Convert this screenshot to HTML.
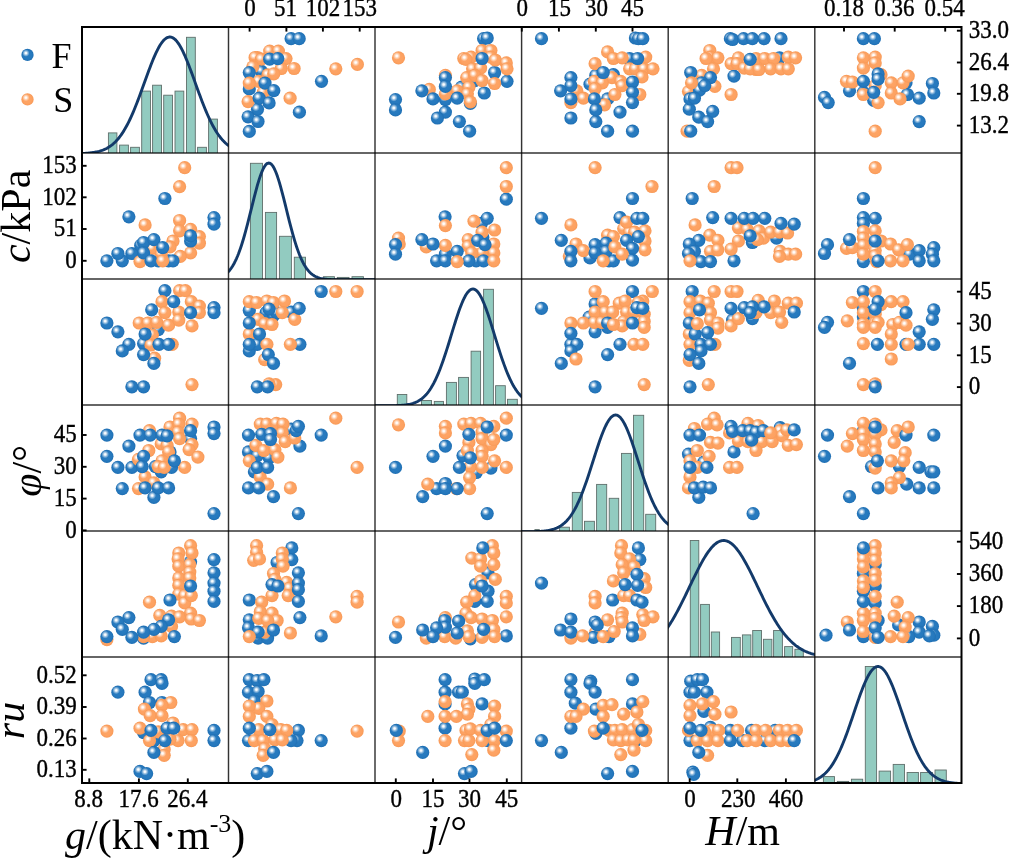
<!DOCTYPE html><html><head><meta charset="utf-8"><style>html,body{margin:0;padding:0;background:#fff;width:1009px;height:859px;overflow:hidden}svg{display:block;filter:grayscale(0%)}text{font-family:'Liberation Serif',serif;fill:#000}</style></head><body>
<svg width="1009" height="859" viewBox="0 0 1009 859">
<defs>
<radialGradient id="gb" cx="0.5" cy="0.5" r="0.5"><stop offset="0" stop-color="#2a7cc0"/><stop offset="0.7" stop-color="#2679be"/><stop offset="1" stop-color="#1f6fb3"/></radialGradient>
<radialGradient id="go" cx="0.5" cy="0.5" r="0.5"><stop offset="0" stop-color="#fea566"/><stop offset="0.7" stop-color="#fda262"/><stop offset="1" stop-color="#f89a58"/></radialGradient>
<radialGradient id="gh" cx="0.5" cy="0.5" r="0.5"><stop offset="0" stop-color="#fff" stop-opacity="1"/><stop offset="0.22" stop-color="#fff" stop-opacity="0.95"/><stop offset="0.55" stop-color="#fff" stop-opacity="0.5"/><stop offset="1" stop-color="#fff" stop-opacity="0"/></radialGradient>
<g id="sb"><circle r="6.6" fill="url(#gb)"/><circle cx="-1.7" cy="-1.9" r="3.9" fill="url(#gh)"/></g>
<g id="so"><circle r="6.6" fill="url(#go)"/><circle cx="-1.7" cy="-1.9" r="3.9" fill="url(#gh)"/></g>
<clipPath id="k00"><rect x="82" y="27" width="146.5" height="126.0"/></clipPath>
<clipPath id="k01"><rect x="228.5" y="27" width="146.5" height="126.0"/></clipPath>
<clipPath id="k02"><rect x="375" y="27" width="146.6" height="126.0"/></clipPath>
<clipPath id="k03"><rect x="521.6" y="27" width="146.6" height="126.0"/></clipPath>
<clipPath id="k04"><rect x="668.2" y="27" width="146.6" height="126.0"/></clipPath>
<clipPath id="k05"><rect x="814.8" y="27" width="146.7" height="126.0"/></clipPath>
<clipPath id="k10"><rect x="82" y="153" width="146.5" height="126.0"/></clipPath>
<clipPath id="k11"><rect x="228.5" y="153" width="146.5" height="126.0"/></clipPath>
<clipPath id="k12"><rect x="375" y="153" width="146.6" height="126.0"/></clipPath>
<clipPath id="k13"><rect x="521.6" y="153" width="146.6" height="126.0"/></clipPath>
<clipPath id="k14"><rect x="668.2" y="153" width="146.6" height="126.0"/></clipPath>
<clipPath id="k15"><rect x="814.8" y="153" width="146.7" height="126.0"/></clipPath>
<clipPath id="k20"><rect x="82" y="279" width="146.5" height="126.0"/></clipPath>
<clipPath id="k21"><rect x="228.5" y="279" width="146.5" height="126.0"/></clipPath>
<clipPath id="k22"><rect x="375" y="279" width="146.6" height="126.0"/></clipPath>
<clipPath id="k23"><rect x="521.6" y="279" width="146.6" height="126.0"/></clipPath>
<clipPath id="k24"><rect x="668.2" y="279" width="146.6" height="126.0"/></clipPath>
<clipPath id="k25"><rect x="814.8" y="279" width="146.7" height="126.0"/></clipPath>
<clipPath id="k30"><rect x="82" y="405" width="146.5" height="126.0"/></clipPath>
<clipPath id="k31"><rect x="228.5" y="405" width="146.5" height="126.0"/></clipPath>
<clipPath id="k32"><rect x="375" y="405" width="146.6" height="126.0"/></clipPath>
<clipPath id="k33"><rect x="521.6" y="405" width="146.6" height="126.0"/></clipPath>
<clipPath id="k34"><rect x="668.2" y="405" width="146.6" height="126.0"/></clipPath>
<clipPath id="k35"><rect x="814.8" y="405" width="146.7" height="126.0"/></clipPath>
<clipPath id="k40"><rect x="82" y="531" width="146.5" height="126.0"/></clipPath>
<clipPath id="k41"><rect x="228.5" y="531" width="146.5" height="126.0"/></clipPath>
<clipPath id="k42"><rect x="375" y="531" width="146.6" height="126.0"/></clipPath>
<clipPath id="k43"><rect x="521.6" y="531" width="146.6" height="126.0"/></clipPath>
<clipPath id="k44"><rect x="668.2" y="531" width="146.6" height="126.0"/></clipPath>
<clipPath id="k45"><rect x="814.8" y="531" width="146.7" height="126.0"/></clipPath>
<clipPath id="k50"><rect x="82" y="657" width="146.5" height="126.0"/></clipPath>
<clipPath id="k51"><rect x="228.5" y="657" width="146.5" height="126.0"/></clipPath>
<clipPath id="k52"><rect x="375" y="657" width="146.6" height="126.0"/></clipPath>
<clipPath id="k53"><rect x="521.6" y="657" width="146.6" height="126.0"/></clipPath>
<clipPath id="k54"><rect x="668.2" y="657" width="146.6" height="126.0"/></clipPath>
<clipPath id="k55"><rect x="814.8" y="657" width="146.7" height="126.0"/></clipPath>
</defs>
<rect width="1009" height="859" fill="#fff"/>
<g clip-path="url(#k00)">
<rect x="108.4" y="132.9" width="8.5" height="22.1" fill="#92cbc0" stroke="#5f6f6b" stroke-width="0.9"/>
<rect x="119.6" y="145.1" width="8.8" height="9.9" fill="#92cbc0" stroke="#5f6f6b" stroke-width="0.9"/>
<rect x="130.6" y="147.3" width="8.8" height="7.7" fill="#92cbc0" stroke="#5f6f6b" stroke-width="0.9"/>
<rect x="141.7" y="91.1" width="8.8" height="63.9" fill="#92cbc0" stroke="#5f6f6b" stroke-width="0.9"/>
<rect x="152.6" y="85.2" width="8.9" height="69.8" fill="#92cbc0" stroke="#5f6f6b" stroke-width="0.9"/>
<rect x="163.7" y="95.2" width="8.8" height="59.8" fill="#92cbc0" stroke="#5f6f6b" stroke-width="0.9"/>
<rect x="175.0" y="91.1" width="8.8" height="63.9" fill="#92cbc0" stroke="#5f6f6b" stroke-width="0.9"/>
<rect x="186.5" y="37.3" width="8.8" height="117.7" fill="#92cbc0" stroke="#5f6f6b" stroke-width="0.9"/>
<rect x="197.6" y="147.3" width="8.8" height="7.7" fill="#92cbc0" stroke="#5f6f6b" stroke-width="0.9"/>
<rect x="208.6" y="119.1" width="8.8" height="35.9" fill="#92cbc0" stroke="#5f6f6b" stroke-width="0.9"/>
<polyline points="80.0,153.56 81.0,153.53 82.0,153.49 83.0,153.44 84.0,153.39 85.0,153.34 86.0,153.27 87.0,153.20 88.0,153.12 89.0,153.03 90.0,152.93 91.0,152.81 92.0,152.69 93.0,152.55 94.0,152.39 95.0,152.22 96.0,152.03 97.0,151.82 98.0,151.58 99.0,151.33 100.0,151.04 101.0,150.73 102.0,150.39 103.0,150.02 104.0,149.62 105.0,149.17 106.0,148.69 107.0,148.17 108.0,147.61 109.0,146.99 110.0,146.33 111.0,145.62 112.0,144.85 113.0,144.03 114.0,143.14 115.0,142.20 116.0,141.19 117.0,140.11 118.0,138.96 119.0,137.74 120.0,136.45 121.0,135.09 122.0,133.64 123.0,132.12 124.0,130.52 125.0,128.84 126.0,127.08 127.0,125.24 128.0,123.32 129.0,121.33 130.0,119.25 131.0,117.10 132.0,114.87 133.0,112.57 134.0,110.20 135.0,107.77 136.0,105.28 137.0,102.73 138.0,100.13 139.0,97.48 140.0,94.80 141.0,92.08 142.0,89.33 143.0,86.57 144.0,83.79 145.0,81.01 146.0,78.24 147.0,75.48 148.0,72.75 149.0,70.05 150.0,67.40 151.0,64.80 152.0,62.25 153.0,59.79 154.0,57.40 155.0,55.10 156.0,52.91 157.0,50.83 158.0,48.86 159.0,47.02 160.0,45.31 161.0,43.75 162.0,42.34 163.0,41.08 164.0,39.98 165.0,39.05 166.0,38.29 167.0,37.70 168.0,37.29 169.0,37.06 170.0,37.00 171.0,37.13 172.0,37.43 173.0,37.92 174.0,38.57 175.0,39.40 176.0,40.40 177.0,41.56 178.0,42.89 179.0,44.36 180.0,45.98 181.0,47.74 182.0,49.63 183.0,51.65 184.0,53.78 185.0,56.01 186.0,58.34 187.0,60.76 188.0,63.26 189.0,65.83 190.0,68.45 191.0,71.13 192.0,73.84 193.0,76.59 194.0,79.35 195.0,82.12 196.0,84.90 197.0,87.67 198.0,90.43 199.0,93.17 200.0,95.87 201.0,98.55 202.0,101.17 203.0,103.76 204.0,106.28 205.0,108.75 206.0,111.16 207.0,113.50 208.0,115.77 209.0,117.97 210.0,120.09 211.0,122.13 212.0,124.10 213.0,125.99 214.0,127.80 215.0,129.52 216.0,131.17 217.0,132.74 218.0,134.23 219.0,135.64 220.0,136.98 221.0,138.24 222.0,139.43 223.0,140.55 224.0,141.60 225.0,142.58 226.0,143.50 227.0,144.36 228.0,145.16 229.0,145.91 230.0,146.60" fill="none" stroke="#133a6a" stroke-width="2.9" stroke-linejoin="round"/>
</g>
<g clip-path="url(#k11)">
<rect x="250.4" y="163.3" width="12.1" height="117.7" fill="#92cbc0" stroke="#5f6f6b" stroke-width="0.9"/>
<rect x="265.4" y="212.4" width="11.2" height="68.6" fill="#92cbc0" stroke="#5f6f6b" stroke-width="0.9"/>
<rect x="279.4" y="236.3" width="12.0" height="44.7" fill="#92cbc0" stroke="#5f6f6b" stroke-width="0.9"/>
<rect x="294.3" y="257.2" width="11.2" height="23.8" fill="#92cbc0" stroke="#5f6f6b" stroke-width="0.9"/>
<rect x="323.4" y="276.7" width="11.0" height="4.3" fill="#92cbc0" stroke="#5f6f6b" stroke-width="0.9"/>
<rect x="337.3" y="277.4" width="11.7" height="3.6" fill="#92cbc0" stroke="#5f6f6b" stroke-width="0.9"/>
<rect x="352.0" y="276.7" width="11.4" height="4.3" fill="#92cbc0" stroke="#5f6f6b" stroke-width="0.9"/>
<polyline points="226.5,273.51 227.5,272.59 228.5,271.56 229.5,270.42 230.5,269.15 231.5,267.75 232.5,266.21 233.5,264.53 234.5,262.69 235.5,260.69 236.5,258.53 237.5,256.21 238.5,253.71 239.5,251.04 240.5,248.21 241.5,245.21 242.5,242.04 243.5,238.72 244.5,235.26 245.5,231.66 246.5,227.94 247.5,224.11 248.5,220.20 249.5,216.22 250.5,212.19 251.5,208.15 252.5,204.11 253.5,200.10 254.5,196.15 255.5,192.30 256.5,188.56 257.5,184.98 258.5,181.58 259.5,178.38 260.5,175.43 261.5,172.73 262.5,170.33 263.5,168.24 264.5,166.47 265.5,165.06 266.5,164.00 267.5,163.32 268.5,163.02 269.5,163.09 270.5,163.55 271.5,164.38 272.5,165.58 273.5,167.14 274.5,169.03 275.5,171.25 276.5,173.78 277.5,176.58 278.5,179.63 279.5,182.91 280.5,186.39 281.5,190.04 282.5,193.83 283.5,197.72 284.5,201.70 285.5,205.72 286.5,209.77 287.5,213.81 288.5,217.82 289.5,221.77 290.5,225.66 291.5,229.44 292.5,233.12 293.5,236.66 294.5,240.07 295.5,243.33 296.5,246.43 297.5,249.36 298.5,252.13 299.5,254.73 300.5,257.16 301.5,259.42 302.5,261.51 303.5,263.44 304.5,265.22 305.5,266.85 306.5,268.33 307.5,269.67 308.5,270.89 309.5,271.99 310.5,272.97 311.5,273.85 312.5,274.63 313.5,275.33 314.5,275.94 315.5,276.48 316.5,276.95 317.5,277.37 318.5,277.73 319.5,278.04 320.5,278.31 321.5,278.55 322.5,278.75 323.5,278.92 324.5,279.06 325.5,279.19 326.5,279.29 327.5,279.38 328.5,279.45 329.5,279.51 330.5,279.57 331.5,279.61 332.5,279.65 333.5,279.67 334.5,279.70 335.5,279.72 336.5,279.73 337.5,279.75 338.5,279.76 339.5,279.77 340.5,279.77 341.5,279.78 342.5,279.78 343.5,279.79 344.5,279.79 345.5,279.79 346.5,279.79 347.5,279.80 348.5,279.80 349.5,279.80 350.5,279.80 351.5,279.80 352.5,279.80 353.5,279.80 354.5,279.80 355.5,279.80 356.5,279.80 357.5,279.80 358.5,279.80 359.5,279.80 360.5,279.80 361.5,279.80 362.5,279.80 363.5,279.80 364.5,279.80 365.5,279.80 366.5,279.80 367.5,279.80 368.5,279.80 369.5,279.80 370.5,279.80 371.5,279.80 372.5,279.80 373.5,279.80 374.5,279.80 375.5,279.80 376.5,279.80" fill="none" stroke="#133a6a" stroke-width="2.9" stroke-linejoin="round"/>
</g>
<g clip-path="url(#k22)">
<rect x="397.3" y="394.5" width="9.5" height="12.5" fill="#92cbc0" stroke="#5f6f6b" stroke-width="0.9"/>
<rect x="421.5" y="400.5" width="10.0" height="6.5" fill="#92cbc0" stroke="#5f6f6b" stroke-width="0.9"/>
<rect x="434.3" y="401.4" width="9.2" height="5.6" fill="#92cbc0" stroke="#5f6f6b" stroke-width="0.9"/>
<rect x="446.4" y="382.4" width="10.0" height="24.6" fill="#92cbc0" stroke="#5f6f6b" stroke-width="0.9"/>
<rect x="458.6" y="377.4" width="9.9" height="29.6" fill="#92cbc0" stroke="#5f6f6b" stroke-width="0.9"/>
<rect x="471.1" y="351.2" width="9.5" height="55.8" fill="#92cbc0" stroke="#5f6f6b" stroke-width="0.9"/>
<rect x="483.6" y="289.3" width="9.8" height="117.7" fill="#92cbc0" stroke="#5f6f6b" stroke-width="0.9"/>
<rect x="495.6" y="385.7" width="9.7" height="21.3" fill="#92cbc0" stroke="#5f6f6b" stroke-width="0.9"/>
<rect x="507.5" y="399.3" width="9.8" height="7.7" fill="#92cbc0" stroke="#5f6f6b" stroke-width="0.9"/>
<polyline points="373.0,405.80 374.0,405.80 375.0,405.80 376.0,405.80 377.0,405.79 378.0,405.79 379.0,405.79 380.0,405.79 381.0,405.79 382.0,405.78 383.0,405.78 384.0,405.78 385.0,405.77 386.0,405.76 387.0,405.76 388.0,405.75 389.0,405.74 390.0,405.73 391.0,405.71 392.0,405.69 393.0,405.68 394.0,405.65 395.0,405.62 396.0,405.59 397.0,405.56 398.0,405.51 399.0,405.46 400.0,405.41 401.0,405.34 402.0,405.27 403.0,405.18 404.0,405.08 405.0,404.97 406.0,404.84 407.0,404.69 408.0,404.52 409.0,404.33 410.0,404.12 411.0,403.88 412.0,403.61 413.0,403.30 414.0,402.96 415.0,402.59 416.0,402.16 417.0,401.70 418.0,401.18 419.0,400.61 420.0,399.98 421.0,399.29 422.0,398.53 423.0,397.70 424.0,396.79 425.0,395.81 426.0,394.74 427.0,393.59 428.0,392.34 429.0,390.99 430.0,389.55 431.0,388.00 432.0,386.35 433.0,384.59 434.0,382.72 435.0,380.74 436.0,378.65 437.0,376.45 438.0,374.14 439.0,371.71 440.0,369.18 441.0,366.55 442.0,363.82 443.0,360.99 444.0,358.08 445.0,355.08 446.0,352.02 447.0,348.88 448.0,345.70 449.0,342.47 450.0,339.22 451.0,335.94 452.0,332.66 453.0,329.39 454.0,326.15 455.0,322.95 456.0,319.80 457.0,316.72 458.0,313.73 459.0,310.84 460.0,308.08 461.0,305.45 462.0,302.96 463.0,300.65 464.0,298.51 465.0,296.56 466.0,294.81 467.0,293.28 468.0,291.97 469.0,290.89 470.0,290.05 471.0,289.45 472.0,289.10 473.0,289.00 474.0,289.15 475.0,289.55 476.0,290.20 477.0,291.09 478.0,292.21 479.0,293.57 480.0,295.14 481.0,296.93 482.0,298.92 483.0,301.10 484.0,303.45 485.0,305.96 486.0,308.62 487.0,311.41 488.0,314.32 489.0,317.33 490.0,320.42 491.0,323.58 492.0,326.80 493.0,330.05 494.0,333.32 495.0,336.60 496.0,339.87 497.0,343.12 498.0,346.34 499.0,349.51 500.0,352.63 501.0,355.69 502.0,358.67 503.0,361.57 504.0,364.37 505.0,367.09 506.0,369.70 507.0,372.21 508.0,374.61 509.0,376.90 510.0,379.08 511.0,381.15 512.0,383.11 513.0,384.95 514.0,386.69 515.0,388.32 516.0,389.85 517.0,391.27 518.0,392.59 519.0,393.82 520.0,394.96 521.0,396.01 522.0,396.98 523.0,397.87" fill="none" stroke="#133a6a" stroke-width="2.9" stroke-linejoin="round"/>
</g>
<g clip-path="url(#k33)">
<rect x="534.9" y="529.6" width="4.4" height="3.4" fill="#92cbc0" stroke="#5f6f6b" stroke-width="0.9"/>
<rect x="559.6" y="527.2" width="9.8" height="5.8" fill="#92cbc0" stroke="#5f6f6b" stroke-width="0.9"/>
<rect x="572.3" y="492.4" width="10.0" height="40.6" fill="#92cbc0" stroke="#5f6f6b" stroke-width="0.9"/>
<rect x="584.5" y="521.3" width="9.9" height="11.7" fill="#92cbc0" stroke="#5f6f6b" stroke-width="0.9"/>
<rect x="596.6" y="484.4" width="10.1" height="48.6" fill="#92cbc0" stroke="#5f6f6b" stroke-width="0.9"/>
<rect x="609.2" y="498.3" width="9.5" height="34.7" fill="#92cbc0" stroke="#5f6f6b" stroke-width="0.9"/>
<rect x="621.5" y="453.4" width="9.8" height="79.6" fill="#92cbc0" stroke="#5f6f6b" stroke-width="0.9"/>
<rect x="633.5" y="415.3" width="10.2" height="117.7" fill="#92cbc0" stroke="#5f6f6b" stroke-width="0.9"/>
<rect x="645.7" y="514.3" width="10.0" height="18.7" fill="#92cbc0" stroke="#5f6f6b" stroke-width="0.9"/>
<polyline points="519.6,531.79 520.6,531.78 521.6,531.78 522.6,531.78 523.6,531.77 524.6,531.77 525.6,531.76 526.6,531.75 527.6,531.74 528.6,531.73 529.6,531.72 530.6,531.71 531.6,531.69 532.6,531.67 533.6,531.65 534.6,531.62 535.6,531.59 536.6,531.55 537.6,531.51 538.6,531.47 539.6,531.41 540.6,531.35 541.6,531.28 542.6,531.20 543.6,531.10 544.6,531.00 545.6,530.88 546.6,530.74 547.6,530.59 548.6,530.41 549.6,530.22 550.6,530.00 551.6,529.76 552.6,529.48 553.6,529.18 554.6,528.84 555.6,528.46 556.6,528.05 557.6,527.59 558.6,527.08 559.6,526.52 560.6,525.91 561.6,525.24 562.6,524.51 563.6,523.72 564.6,522.85 565.6,521.91 566.6,520.90 567.6,519.80 568.6,518.62 569.6,517.35 570.6,515.99 571.6,514.54 572.6,512.99 573.6,511.34 574.6,509.60 575.6,507.75 576.6,505.80 577.6,503.74 578.6,501.58 579.6,499.33 580.6,496.97 581.6,494.51 582.6,491.96 583.6,489.32 584.6,486.59 585.6,483.78 586.6,480.90 587.6,477.95 588.6,474.95 589.6,471.89 590.6,468.80 591.6,465.67 592.6,462.53 593.6,459.38 594.6,456.24 595.6,453.12 596.6,450.03 597.6,446.99 598.6,444.00 599.6,441.09 600.6,438.27 601.6,435.56 602.6,432.96 603.6,430.48 604.6,428.16 605.6,425.98 606.6,423.98 607.6,422.15 608.6,420.52 609.6,419.08 610.6,417.85 611.6,416.83 612.6,416.03 613.6,415.46 614.6,415.12 615.6,415.00 616.6,415.12 617.6,415.46 618.6,416.03 619.6,416.83 620.6,417.85 621.6,419.08 622.6,420.52 623.6,422.15 624.6,423.98 625.6,425.98 626.6,428.16 627.6,430.48 628.6,432.96 629.6,435.56 630.6,438.27 631.6,441.09 632.6,444.00 633.6,446.99 634.6,450.03 635.6,453.12 636.6,456.24 637.6,459.38 638.6,462.53 639.6,465.67 640.6,468.80 641.6,471.89 642.6,474.95 643.6,477.95 644.6,480.90 645.6,483.78 646.6,486.59 647.6,489.32 648.6,491.96 649.6,494.51 650.6,496.97 651.6,499.33 652.6,501.58 653.6,503.74 654.6,505.80 655.6,507.75 656.6,509.60 657.6,511.34 658.6,512.99 659.6,514.54 660.6,515.99 661.6,517.35 662.6,518.62 663.6,519.80 664.6,520.90 665.6,521.91 666.6,522.85 667.6,523.72 668.6,524.51 669.6,525.24" fill="none" stroke="#133a6a" stroke-width="2.9" stroke-linejoin="round"/>
</g>
<g clip-path="url(#k44)">
<rect x="690.3" y="540.5" width="8.5" height="118.5" fill="#92cbc0" stroke="#5f6f6b" stroke-width="0.9"/>
<rect x="700.6" y="604.4" width="8.8" height="54.6" fill="#92cbc0" stroke="#5f6f6b" stroke-width="0.9"/>
<rect x="711.3" y="632.0" width="8.3" height="27.0" fill="#92cbc0" stroke="#5f6f6b" stroke-width="0.9"/>
<rect x="731.5" y="637.4" width="8.8" height="21.6" fill="#92cbc0" stroke="#5f6f6b" stroke-width="0.9"/>
<rect x="742.4" y="634.9" width="8.5" height="24.1" fill="#92cbc0" stroke="#5f6f6b" stroke-width="0.9"/>
<rect x="752.7" y="630.5" width="8.8" height="28.5" fill="#92cbc0" stroke="#5f6f6b" stroke-width="0.9"/>
<rect x="763.4" y="639.3" width="8.5" height="19.7" fill="#92cbc0" stroke="#5f6f6b" stroke-width="0.9"/>
<rect x="773.6" y="630.5" width="8.8" height="28.5" fill="#92cbc0" stroke="#5f6f6b" stroke-width="0.9"/>
<rect x="784.6" y="646.6" width="8.1" height="12.4" fill="#92cbc0" stroke="#5f6f6b" stroke-width="0.9"/>
<rect x="794.9" y="649.3" width="8.4" height="9.7" fill="#92cbc0" stroke="#5f6f6b" stroke-width="0.9"/>
<polyline points="666.2,629.59 667.2,628.17 668.2,626.70 669.2,625.19 670.2,623.63 671.2,622.03 672.2,620.39 673.2,618.70 674.2,616.98 675.2,615.21 676.2,613.41 677.2,611.57 678.2,609.70 679.2,607.80 680.2,605.86 681.2,603.90 682.2,601.91 683.2,599.90 684.2,597.86 685.2,595.81 686.2,593.75 687.2,591.67 688.2,589.58 689.2,587.49 690.2,585.40 691.2,583.31 692.2,581.22 693.2,579.15 694.2,577.09 695.2,575.05 696.2,573.02 697.2,571.03 698.2,569.06 699.2,567.13 700.2,565.24 701.2,563.38 702.2,561.58 703.2,559.82 704.2,558.12 705.2,556.48 706.2,554.90 707.2,553.38 708.2,551.94 709.2,550.56 710.2,549.27 711.2,548.05 712.2,546.91 713.2,545.86 714.2,544.90 715.2,544.03 716.2,543.25 717.2,542.56 718.2,541.97 719.2,541.48 720.2,541.09 721.2,540.79 722.2,540.60 723.2,540.51 724.2,540.52 725.2,540.63 726.2,540.84 727.2,541.16 728.2,541.57 729.2,542.08 730.2,542.69 731.2,543.39 732.2,544.19 733.2,545.08 734.2,546.06 735.2,547.13 736.2,548.28 737.2,549.52 738.2,550.83 739.2,552.22 740.2,553.68 741.2,555.21 742.2,556.80 743.2,558.46 744.2,560.17 745.2,561.94 746.2,563.75 747.2,565.61 748.2,567.51 749.2,569.45 750.2,571.43 751.2,573.43 752.2,575.45 753.2,577.50 754.2,579.56 755.2,581.64 756.2,583.73 757.2,585.82 758.2,587.91 759.2,590.00 760.2,592.08 761.2,594.16 762.2,596.22 763.2,598.27 764.2,600.30 765.2,602.31 766.2,604.29 767.2,606.25 768.2,608.18 769.2,610.08 770.2,611.95 771.2,613.78 772.2,615.57 773.2,617.33 774.2,619.04 775.2,620.72 776.2,622.35 777.2,623.94 778.2,625.49 779.2,627.00 780.2,628.46 781.2,629.87 782.2,631.24 783.2,632.56 784.2,633.84 785.2,635.07 786.2,636.26 787.2,637.41 788.2,638.51 789.2,639.56 790.2,640.58 791.2,641.55 792.2,642.48 793.2,643.37 794.2,644.22 795.2,645.03 796.2,645.80 797.2,646.53 798.2,647.23 799.2,647.90 800.2,648.53 801.2,649.13 802.2,649.69 803.2,650.23 804.2,650.74 805.2,651.22 806.2,651.67 807.2,652.09 808.2,652.49 809.2,652.87 810.2,653.22 811.2,653.56 812.2,653.87 813.2,654.16 814.2,654.43 815.2,654.69 816.2,654.93" fill="none" stroke="#133a6a" stroke-width="2.9" stroke-linejoin="round"/>
</g>
<g clip-path="url(#k55)">
<rect x="823.4" y="776.6" width="11.1" height="8.4" fill="#92cbc0" stroke="#5f6f6b" stroke-width="0.9"/>
<rect x="837.3" y="781.4" width="11.4" height="3.6" fill="#92cbc0" stroke="#5f6f6b" stroke-width="0.9"/>
<rect x="851.4" y="779.2" width="11.3" height="5.8" fill="#92cbc0" stroke="#5f6f6b" stroke-width="0.9"/>
<rect x="865.3" y="666.5" width="11.3" height="118.5" fill="#92cbc0" stroke="#5f6f6b" stroke-width="0.9"/>
<rect x="879.1" y="771.1" width="11.5" height="13.9" fill="#92cbc0" stroke="#5f6f6b" stroke-width="0.9"/>
<rect x="893.2" y="764.4" width="11.3" height="20.6" fill="#92cbc0" stroke="#5f6f6b" stroke-width="0.9"/>
<rect x="907.1" y="772.5" width="11.3" height="12.5" fill="#92cbc0" stroke="#5f6f6b" stroke-width="0.9"/>
<rect x="920.6" y="772.5" width="11.8" height="12.5" fill="#92cbc0" stroke="#5f6f6b" stroke-width="0.9"/>
<rect x="935.0" y="770.0" width="11.3" height="15.0" fill="#92cbc0" stroke="#5f6f6b" stroke-width="0.9"/>
<polyline points="812.8,780.87 813.8,780.52 814.8,780.14 815.8,779.72 816.8,779.26 817.8,778.75 818.8,778.20 819.8,777.60 820.8,776.95 821.8,776.24 822.8,775.47 823.8,774.64 824.8,773.75 825.8,772.78 826.8,771.75 827.8,770.64 828.8,769.45 829.8,768.19 830.8,766.84 831.8,765.41 832.8,763.89 833.8,762.28 834.8,760.59 835.8,758.80 836.8,756.92 837.8,754.96 838.8,752.90 839.8,750.75 840.8,748.51 841.8,746.19 842.8,743.79 843.8,741.30 844.8,738.74 845.8,736.11 846.8,733.41 847.8,730.65 848.8,727.84 849.8,724.98 850.8,722.09 851.8,719.16 852.8,716.21 853.8,713.25 854.8,710.28 855.8,707.33 856.8,704.39 857.8,701.49 858.8,698.62 859.8,695.81 860.8,693.07 861.8,690.40 862.8,687.82 863.8,685.34 864.8,682.97 865.8,680.72 866.8,678.60 867.8,676.63 868.8,674.81 869.8,673.15 870.8,671.66 871.8,670.35 872.8,669.22 873.8,668.28 874.8,667.54 875.8,666.99 876.8,666.65 877.8,666.50 878.8,666.57 879.8,666.83 880.8,667.30 881.8,667.96 882.8,668.82 883.8,669.88 884.8,671.12 885.8,672.53 886.8,674.13 887.8,675.88 888.8,677.80 889.8,679.85 890.8,682.05 891.8,684.37 892.8,686.81 893.8,689.35 894.8,691.99 895.8,694.71 896.8,697.49 897.8,700.34 898.8,703.23 899.8,706.15 900.8,709.10 901.8,712.06 902.8,715.02 903.8,717.98 904.8,720.92 905.8,723.83 906.8,726.70 907.8,729.54 908.8,732.32 909.8,735.04 910.8,737.70 911.8,740.29 912.8,742.80 913.8,745.24 914.8,747.60 915.8,749.87 916.8,752.05 917.8,754.14 918.8,756.15 919.8,758.06 920.8,759.88 921.8,761.61 922.8,763.26 923.8,764.81 924.8,766.28 925.8,767.66 926.8,768.96 927.8,770.17 928.8,771.31 929.8,772.38 930.8,773.37 931.8,774.29 932.8,775.15 933.8,775.94 934.8,776.67 935.8,777.35 936.8,777.97 937.8,778.54 938.8,779.06 939.8,779.54 940.8,779.98 941.8,780.37 942.8,780.74 943.8,781.06 944.8,781.36 945.8,781.63 946.8,781.87 947.8,782.09 948.8,782.29 949.8,782.46 950.8,782.62 951.8,782.76 952.8,782.89 953.8,783.00 954.8,783.10 955.8,783.19 956.8,783.26 957.8,783.33 958.8,783.39 959.8,783.45 960.8,783.49 961.8,783.54 962.8,783.57" fill="none" stroke="#133a6a" stroke-width="2.9" stroke-linejoin="round"/>
</g>
<g clip-path="url(#k01)">
<use href="#sb" x="249.3" y="88.9"/>
<use href="#sb" x="257.5" y="109.3"/>
<use href="#sb" x="248.1" y="116.8"/>
<use href="#sb" x="258.0" y="121.5"/>
<use href="#sb" x="249.3" y="131.4"/>
<use href="#sb" x="299.4" y="112.2"/>
<use href="#sb" x="261.5" y="71.4"/>
<use href="#sb" x="291.1" y="38.7"/>
<use href="#sb" x="299.2" y="38.7"/>
<use href="#sb" x="321.5" y="81.3"/>
<use href="#so" x="269.7" y="51.1"/>
<use href="#so" x="278.4" y="51.1"/>
<use href="#so" x="257.5" y="57.5"/>
<use href="#so" x="255.1" y="57.5"/>
<use href="#so" x="261.5" y="59.2"/>
<use href="#so" x="286.0" y="58.6"/>
<use href="#so" x="281.3" y="68.5"/>
<use href="#so" x="294.1" y="68.5"/>
<use href="#so" x="252.8" y="66.8"/>
<use href="#so" x="267.9" y="74.9"/>
<use href="#so" x="273.8" y="73.8"/>
<use href="#so" x="258.6" y="81.3"/>
<use href="#so" x="263.3" y="92.4"/>
<use href="#so" x="248.1" y="101.7"/>
<use href="#so" x="290.1" y="98.2"/>
<use href="#so" x="335.8" y="68.8"/>
<use href="#so" x="357.4" y="64.4"/>
<use href="#sb" x="269.7" y="59.2"/>
<use href="#sb" x="265.0" y="83.1"/>
<use href="#sb" x="273.8" y="90.6"/>
<use href="#sb" x="259.2" y="98.2"/>
<use href="#sb" x="269.1" y="102.9"/>
<use href="#sb" x="249.3" y="72.6"/>
<use href="#sb" x="277.8" y="58.6"/>
<use href="#so" x="249.3" y="83.1"/>
</g>
<g clip-path="url(#k02)">
<use href="#sb" x="483.6" y="38.7"/>
<use href="#sb" x="487.2" y="38.0"/>
<use href="#sb" x="494.6" y="72.5"/>
<use href="#sb" x="507.0" y="81.3"/>
<use href="#sb" x="474.8" y="80.6"/>
<use href="#sb" x="484.3" y="93.0"/>
<use href="#sb" x="461.6" y="87.2"/>
<use href="#sb" x="445.4" y="99.6"/>
<use href="#sb" x="395.5" y="99.6"/>
<use href="#sb" x="395.5" y="109.9"/>
<use href="#sb" x="445.4" y="112.1"/>
<use href="#sb" x="437.4" y="118.0"/>
<use href="#sb" x="459.4" y="121.6"/>
<use href="#sb" x="469.6" y="131.2"/>
<use href="#sb" x="470.4" y="103.3"/>
<use href="#so" x="398.5" y="57.8"/>
<use href="#so" x="463.8" y="58.5"/>
<use href="#so" x="471.1" y="57.1"/>
<use href="#so" x="466.0" y="59.3"/>
<use href="#so" x="482.1" y="50.5"/>
<use href="#so" x="490.9" y="50.5"/>
<use href="#so" x="490.9" y="57.1"/>
<use href="#so" x="495.3" y="60.0"/>
<use href="#so" x="506.3" y="62.9"/>
<use href="#so" x="507.0" y="68.8"/>
<use href="#so" x="472.6" y="68.8"/>
<use href="#so" x="480.6" y="68.1"/>
<use href="#so" x="466.7" y="77.6"/>
<use href="#so" x="474.8" y="75.4"/>
<use href="#so" x="482.1" y="80.6"/>
<use href="#so" x="494.6" y="83.5"/>
<use href="#so" x="445.4" y="75.4"/>
<use href="#so" x="429.3" y="89.4"/>
<use href="#so" x="445.4" y="93.8"/>
<use href="#so" x="457.2" y="90.8"/>
<use href="#so" x="468.9" y="87.2"/>
<use href="#so" x="467.4" y="93.8"/>
<use href="#so" x="470.4" y="101.8"/>
<use href="#sb" x="482.1" y="58.5"/>
<use href="#sb" x="457.2" y="98.2"/>
<use href="#sb" x="445.4" y="77.6"/>
<use href="#sb" x="445.4" y="86.4"/>
<use href="#sb" x="421.9" y="90.8"/>
<use href="#sb" x="433.0" y="98.9"/>
</g>
<g clip-path="url(#k03)">
<use href="#sb" x="541.5" y="38.7"/>
<use href="#sb" x="635.4" y="38.0"/>
<use href="#sb" x="638.4" y="38.7"/>
<use href="#sb" x="642.8" y="38.7"/>
<use href="#sb" x="629.6" y="58.5"/>
<use href="#sb" x="560.6" y="90.8"/>
<use href="#sb" x="590.0" y="84.2"/>
<use href="#sb" x="595.8" y="75.4"/>
<use href="#sb" x="613.4" y="74.7"/>
<use href="#sb" x="595.8" y="121.6"/>
<use href="#sb" x="607.6" y="98.9"/>
<use href="#sb" x="570.9" y="118.0"/>
<use href="#sb" x="620.0" y="112.1"/>
<use href="#sb" x="607.6" y="131.2"/>
<use href="#sb" x="632.5" y="131.2"/>
<use href="#so" x="607.6" y="51.9"/>
<use href="#so" x="613.4" y="58.5"/>
<use href="#so" x="622.2" y="57.8"/>
<use href="#so" x="595.1" y="63.7"/>
<use href="#so" x="645.7" y="57.1"/>
<use href="#so" x="629.6" y="68.8"/>
<use href="#so" x="635.4" y="68.8"/>
<use href="#so" x="644.2" y="68.8"/>
<use href="#so" x="653.0" y="68.8"/>
<use href="#so" x="642.0" y="76.9"/>
<use href="#so" x="612.0" y="77.6"/>
<use href="#so" x="594.4" y="81.3"/>
<use href="#so" x="602.4" y="82.8"/>
<use href="#so" x="595.1" y="88.6"/>
<use href="#so" x="620.8" y="81.3"/>
<use href="#so" x="622.2" y="85.7"/>
<use href="#so" x="576.8" y="90.8"/>
<use href="#so" x="583.4" y="98.2"/>
<use href="#so" x="570.9" y="102.6"/>
<use href="#so" x="614.9" y="94.5"/>
<use href="#so" x="639.8" y="94.5"/>
<use href="#so" x="604.6" y="104.8"/>
<use href="#sb" x="637.6" y="58.5"/>
<use href="#sb" x="570.9" y="77.6"/>
<use href="#sb" x="570.9" y="85.7"/>
<use href="#sb" x="570.9" y="98.9"/>
<use href="#sb" x="603.2" y="72.5"/>
<use href="#sb" x="594.4" y="98.9"/>
<use href="#sb" x="595.8" y="109.9"/>
<use href="#sb" x="632.5" y="82.0"/>
<use href="#sb" x="632.5" y="92.3"/>
<use href="#sb" x="632.5" y="102.6"/>
</g>
<g clip-path="url(#k04)">
<use href="#sb" x="730.4" y="38.7"/>
<use href="#sb" x="732.6" y="39.5"/>
<use href="#sb" x="743.6" y="38.7"/>
<use href="#sb" x="752.4" y="38.7"/>
<use href="#sb" x="764.1" y="38.7"/>
<use href="#sb" x="781.0" y="38.7"/>
<use href="#sb" x="779.5" y="57.8"/>
<use href="#sb" x="689.3" y="109.2"/>
<use href="#sb" x="712.7" y="111.4"/>
<use href="#sb" x="698.8" y="117.2"/>
<use href="#sb" x="707.6" y="121.6"/>
<use href="#sb" x="734.0" y="76.1"/>
<use href="#so" x="709.8" y="50.5"/>
<use href="#so" x="710.5" y="57.1"/>
<use href="#so" x="717.9" y="57.8"/>
<use href="#so" x="706.1" y="58.5"/>
<use href="#so" x="731.1" y="63.7"/>
<use href="#so" x="738.4" y="57.8"/>
<use href="#so" x="737.0" y="63.7"/>
<use href="#so" x="713.5" y="68.8"/>
<use href="#so" x="744.3" y="68.1"/>
<use href="#so" x="756.0" y="69.5"/>
<use href="#so" x="750.2" y="68.8"/>
<use href="#so" x="759.0" y="69.5"/>
<use href="#so" x="756.0" y="58.5"/>
<use href="#so" x="764.8" y="58.5"/>
<use href="#so" x="773.6" y="58.5"/>
<use href="#so" x="788.3" y="57.1"/>
<use href="#so" x="795.6" y="57.8"/>
<use href="#so" x="770.7" y="68.8"/>
<use href="#so" x="781.0" y="68.8"/>
<use href="#so" x="788.3" y="68.8"/>
<use href="#so" x="701.7" y="75.4"/>
<use href="#so" x="714.9" y="86.4"/>
<use href="#so" x="688.5" y="91.6"/>
<use href="#so" x="731.1" y="94.5"/>
<use href="#so" x="687.1" y="131.2"/>
<use href="#sb" x="750.2" y="59.3"/>
<use href="#sb" x="690.7" y="72.5"/>
<use href="#sb" x="710.5" y="77.6"/>
<use href="#sb" x="701.7" y="82.8"/>
<use href="#sb" x="699.5" y="90.1"/>
<use href="#sb" x="704.7" y="85.7"/>
<use href="#sb" x="690.0" y="98.9"/>
<use href="#sb" x="694.4" y="98.2"/>
<use href="#sb" x="690.7" y="131.2"/>
<use href="#so" x="691.5" y="82.8"/>
</g>
<g clip-path="url(#k05)">
<use href="#sb" x="863.4" y="38.7"/>
<use href="#sb" x="874.4" y="38.7"/>
<use href="#sb" x="849.5" y="90.8"/>
<use href="#sb" x="873.7" y="100.4"/>
<use href="#sb" x="863.4" y="92.3"/>
<use href="#sb" x="824.5" y="97.4"/>
<use href="#sb" x="828.2" y="102.6"/>
<use href="#sb" x="906.0" y="82.8"/>
<use href="#sb" x="907.4" y="94.5"/>
<use href="#sb" x="919.2" y="98.2"/>
<use href="#sb" x="932.4" y="83.5"/>
<use href="#sb" x="933.8" y="93.0"/>
<use href="#sb" x="919.2" y="121.6"/>
<use href="#so" x="863.4" y="57.8"/>
<use href="#so" x="875.2" y="57.1"/>
<use href="#so" x="875.2" y="62.9"/>
<use href="#so" x="863.4" y="68.1"/>
<use href="#so" x="881.0" y="74.7"/>
<use href="#so" x="846.5" y="81.3"/>
<use href="#so" x="852.4" y="82.0"/>
<use href="#so" x="875.2" y="85.7"/>
<use href="#so" x="863.4" y="94.5"/>
<use href="#so" x="878.1" y="102.6"/>
<use href="#so" x="891.3" y="82.8"/>
<use href="#so" x="891.3" y="93.0"/>
<use href="#so" x="900.1" y="98.9"/>
<use href="#so" x="903.0" y="82.8"/>
<use href="#so" x="908.2" y="76.1"/>
<use href="#so" x="875.2" y="131.2"/>
<use href="#sb" x="878.1" y="73.9"/>
<use href="#sb" x="878.1" y="79.1"/>
<use href="#sb" x="863.4" y="81.3"/>
<use href="#sb" x="873.7" y="92.3"/>
</g>
<g clip-path="url(#k10)">
<use href="#sb" x="164.9" y="198.5"/>
<use href="#sb" x="128.9" y="216.8"/>
<use href="#sb" x="214.0" y="217.6"/>
<use href="#sb" x="214.0" y="224.2"/>
<use href="#sb" x="106.9" y="260.8"/>
<use href="#sb" x="122.3" y="260.8"/>
<use href="#sb" x="117.9" y="253.5"/>
<use href="#sb" x="131.9" y="253.5"/>
<use href="#sb" x="168.6" y="260.8"/>
<use href="#sb" x="158.3" y="260.8"/>
<use href="#so" x="184.7" y="167.7"/>
<use href="#so" x="179.6" y="186.7"/>
<use href="#so" x="145.1" y="224.9"/>
<use href="#so" x="179.6" y="220.5"/>
<use href="#so" x="179.6" y="230.8"/>
<use href="#so" x="190.6" y="229.3"/>
<use href="#so" x="199.4" y="236.6"/>
<use href="#so" x="199.4" y="243.2"/>
<use href="#so" x="173.0" y="241.0"/>
<use href="#so" x="170.0" y="246.9"/>
<use href="#so" x="190.6" y="252.8"/>
<use href="#so" x="180.3" y="256.4"/>
<use href="#so" x="140.0" y="261.6"/>
<use href="#so" x="152.4" y="248.4"/>
<use href="#so" x="161.2" y="254.2"/>
<use href="#sb" x="190.6" y="241.0"/>
<use href="#sb" x="190.6" y="235.9"/>
<use href="#sb" x="140.7" y="245.4"/>
<use href="#sb" x="143.6" y="242.5"/>
<use href="#sb" x="153.9" y="239.6"/>
<use href="#sb" x="143.6" y="252.8"/>
<use href="#sb" x="151.0" y="260.8"/>
<use href="#sb" x="162.7" y="247.6"/>
<use href="#sb" x="173.0" y="260.8"/>
<use href="#so" x="162.7" y="260.8"/>
</g>
<g clip-path="url(#k12)">
<use href="#sb" x="506.3" y="199.2"/>
<use href="#sb" x="445.1" y="216.8"/>
<use href="#sb" x="481.4" y="223.4"/>
<use href="#sb" x="445.4" y="254.2"/>
<use href="#sb" x="482.8" y="237.4"/>
<use href="#sb" x="476.2" y="260.8"/>
<use href="#so" x="506.3" y="167.7"/>
<use href="#so" x="506.3" y="186.5"/>
<use href="#so" x="474.0" y="221.2"/>
<use href="#so" x="445.4" y="225.6"/>
<use href="#so" x="494.6" y="230.0"/>
<use href="#so" x="398.5" y="238.1"/>
<use href="#so" x="399.2" y="244.0"/>
<use href="#so" x="426.3" y="246.9"/>
<use href="#so" x="445.4" y="245.4"/>
<use href="#so" x="468.2" y="239.6"/>
<use href="#so" x="468.2" y="246.2"/>
<use href="#so" x="482.1" y="232.2"/>
<use href="#so" x="493.8" y="244.0"/>
<use href="#so" x="493.8" y="252.8"/>
<use href="#so" x="482.1" y="252.8"/>
<use href="#so" x="471.8" y="252.8"/>
<use href="#sb" x="487.2" y="218.3"/>
<use href="#sb" x="421.9" y="239.6"/>
<use href="#sb" x="433.0" y="244.0"/>
<use href="#sb" x="395.5" y="244.7"/>
<use href="#sb" x="395.5" y="254.2"/>
<use href="#sb" x="457.2" y="251.3"/>
<use href="#sb" x="436.6" y="260.8"/>
<use href="#sb" x="445.4" y="260.8"/>
<use href="#sb" x="468.9" y="260.8"/>
<use href="#sb" x="483.6" y="260.8"/>
<use href="#sb" x="477.7" y="240.3"/>
<use href="#sb" x="485.0" y="244.7"/>
<use href="#so" x="457.2" y="261.6"/>
<use href="#so" x="493.8" y="260.8"/>
</g>
<g clip-path="url(#k13)">
<use href="#sb" x="632.5" y="198.5"/>
<use href="#sb" x="541.5" y="218.3"/>
<use href="#sb" x="620.0" y="217.6"/>
<use href="#sb" x="561.3" y="240.3"/>
<use href="#sb" x="590.0" y="257.9"/>
<use href="#sb" x="609.0" y="260.8"/>
<use href="#sb" x="613.4" y="260.8"/>
<use href="#so" x="595.1" y="167.7"/>
<use href="#so" x="652.0" y="186.5"/>
<use href="#so" x="570.9" y="224.9"/>
<use href="#so" x="576.0" y="244.0"/>
<use href="#so" x="583.4" y="250.6"/>
<use href="#so" x="607.6" y="235.2"/>
<use href="#so" x="613.4" y="236.6"/>
<use href="#so" x="623.7" y="228.6"/>
<use href="#so" x="629.6" y="232.2"/>
<use href="#so" x="634.7" y="232.2"/>
<use href="#so" x="626.6" y="222.0"/>
<use href="#so" x="645.0" y="230.8"/>
<use href="#so" x="645.0" y="241.0"/>
<use href="#so" x="645.0" y="249.8"/>
<use href="#so" x="569.4" y="256.4"/>
<use href="#sb" x="636.9" y="218.3"/>
<use href="#sb" x="642.8" y="218.3"/>
<use href="#sb" x="595.1" y="244.7"/>
<use href="#sb" x="595.1" y="252.8"/>
<use href="#sb" x="606.1" y="243.2"/>
<use href="#sb" x="606.1" y="251.3"/>
<use href="#sb" x="570.9" y="251.3"/>
<use href="#sb" x="570.9" y="260.8"/>
<use href="#sb" x="626.6" y="240.3"/>
<use href="#sb" x="638.4" y="236.6"/>
<use href="#sb" x="632.5" y="248.4"/>
<use href="#sb" x="632.5" y="260.1"/>
<use href="#so" x="614.9" y="246.9"/>
<use href="#so" x="622.2" y="254.2"/>
<use href="#so" x="603.2" y="260.8"/>
</g>
<g clip-path="url(#k14)">
<use href="#sb" x="692.2" y="198.5"/>
<use href="#sb" x="712.7" y="217.6"/>
<use href="#sb" x="752.4" y="242.5"/>
<use href="#sb" x="776.6" y="238.1"/>
<use href="#sb" x="734.0" y="260.8"/>
<use href="#so" x="731.1" y="167.7"/>
<use href="#so" x="737.0" y="167.7"/>
<use href="#so" x="714.2" y="186.5"/>
<use href="#so" x="695.1" y="224.9"/>
<use href="#so" x="738.4" y="227.8"/>
<use href="#so" x="747.2" y="229.3"/>
<use href="#so" x="759.0" y="230.8"/>
<use href="#so" x="763.4" y="238.1"/>
<use href="#so" x="770.7" y="232.2"/>
<use href="#so" x="779.5" y="232.2"/>
<use href="#so" x="787.6" y="233.0"/>
<use href="#so" x="757.5" y="239.6"/>
<use href="#so" x="738.4" y="241.0"/>
<use href="#so" x="731.1" y="249.1"/>
<use href="#so" x="709.8" y="235.2"/>
<use href="#so" x="717.9" y="240.3"/>
<use href="#so" x="710.5" y="251.3"/>
<use href="#so" x="717.9" y="249.8"/>
<use href="#so" x="780.2" y="251.3"/>
<use href="#so" x="788.3" y="254.2"/>
<use href="#so" x="795.6" y="254.2"/>
<use href="#so" x="779.5" y="256.4"/>
<use href="#sb" x="731.1" y="218.3"/>
<use href="#sb" x="744.3" y="218.3"/>
<use href="#sb" x="753.1" y="218.3"/>
<use href="#sb" x="764.8" y="218.3"/>
<use href="#sb" x="781.0" y="223.4"/>
<use href="#sb" x="794.2" y="224.2"/>
<use href="#sb" x="750.2" y="235.9"/>
<use href="#sb" x="698.8" y="240.3"/>
<use href="#sb" x="689.3" y="244.0"/>
<use href="#sb" x="694.4" y="251.3"/>
<use href="#sb" x="688.5" y="253.5"/>
<use href="#sb" x="701.0" y="261.6"/>
<use href="#sb" x="710.5" y="261.6"/>
<use href="#so" x="690.0" y="260.8"/>
</g>
<g clip-path="url(#k15)">
<use href="#sb" x="863.4" y="198.5"/>
<use href="#sb" x="863.4" y="217.6"/>
<use href="#sb" x="875.2" y="218.3"/>
<use href="#sb" x="863.4" y="223.4"/>
<use href="#sb" x="827.5" y="244.7"/>
<use href="#sb" x="824.5" y="253.5"/>
<use href="#sb" x="863.4" y="261.6"/>
<use href="#sb" x="909.6" y="254.2"/>
<use href="#sb" x="919.2" y="250.6"/>
<use href="#sb" x="919.2" y="260.8"/>
<use href="#sb" x="933.8" y="247.6"/>
<use href="#sb" x="932.4" y="254.2"/>
<use href="#sb" x="933.8" y="260.8"/>
<use href="#so" x="875.2" y="167.7"/>
<use href="#so" x="863.4" y="231.5"/>
<use href="#so" x="875.2" y="230.8"/>
<use href="#so" x="863.4" y="238.1"/>
<use href="#so" x="881.0" y="241.0"/>
<use href="#so" x="846.5" y="248.4"/>
<use href="#so" x="852.4" y="247.6"/>
<use href="#so" x="863.4" y="245.4"/>
<use href="#so" x="863.4" y="254.2"/>
<use href="#so" x="875.2" y="250.6"/>
<use href="#so" x="875.2" y="255.7"/>
<use href="#so" x="890.6" y="244.0"/>
<use href="#so" x="898.6" y="249.8"/>
<use href="#so" x="907.4" y="244.7"/>
<use href="#so" x="890.6" y="260.8"/>
<use href="#so" x="903.0" y="260.8"/>
<use href="#so" x="876.6" y="261.6"/>
<use href="#sb" x="849.5" y="239.6"/>
<use href="#sb" x="875.2" y="241.0"/>
<use href="#sb" x="878.1" y="260.8"/>
</g>
<g clip-path="url(#k20)">
<use href="#sb" x="164.9" y="290.7"/>
<use href="#sb" x="214.0" y="307.6"/>
<use href="#sb" x="214.0" y="312.7"/>
<use href="#sb" x="106.9" y="323.0"/>
<use href="#sb" x="117.9" y="331.8"/>
<use href="#sb" x="158.3" y="329.6"/>
<use href="#sb" x="128.9" y="344.3"/>
<use href="#sb" x="122.3" y="350.9"/>
<use href="#sb" x="143.6" y="343.6"/>
<use href="#sb" x="131.9" y="386.8"/>
<use href="#sb" x="143.6" y="386.8"/>
<use href="#so" x="179.6" y="290.7"/>
<use href="#so" x="185.4" y="290.7"/>
<use href="#so" x="162.0" y="301.7"/>
<use href="#so" x="191.3" y="301.7"/>
<use href="#so" x="199.4" y="306.1"/>
<use href="#so" x="164.9" y="312.7"/>
<use href="#so" x="178.8" y="312.0"/>
<use href="#so" x="199.4" y="312.7"/>
<use href="#so" x="139.2" y="323.0"/>
<use href="#so" x="148.0" y="323.0"/>
<use href="#so" x="156.8" y="322.3"/>
<use href="#so" x="168.6" y="325.2"/>
<use href="#so" x="178.8" y="320.1"/>
<use href="#so" x="192.0" y="325.9"/>
<use href="#so" x="152.4" y="334.8"/>
<use href="#so" x="151.0" y="345.0"/>
<use href="#so" x="172.2" y="344.3"/>
<use href="#so" x="154.6" y="358.2"/>
<use href="#so" x="192.0" y="384.6"/>
<use href="#sb" x="173.7" y="301.7"/>
<use href="#sb" x="151.7" y="309.8"/>
<use href="#sb" x="190.6" y="312.7"/>
<use href="#sb" x="145.1" y="334.0"/>
<use href="#sb" x="143.6" y="354.6"/>
<use href="#sb" x="159.0" y="344.3"/>
<use href="#sb" x="168.6" y="344.3"/>
<use href="#sb" x="153.9" y="363.4"/>
</g>
<g clip-path="url(#k21)">
<use href="#sb" x="321.2" y="291.5"/>
<use href="#sb" x="249.3" y="310.5"/>
<use href="#sb" x="266.1" y="312.7"/>
<use href="#sb" x="273.5" y="315.7"/>
<use href="#sb" x="276.4" y="312.7"/>
<use href="#sb" x="291.1" y="312.0"/>
<use href="#sb" x="249.3" y="350.9"/>
<use href="#sb" x="257.3" y="344.3"/>
<use href="#sb" x="299.9" y="344.3"/>
<use href="#so" x="335.8" y="291.5"/>
<use href="#so" x="357.1" y="291.5"/>
<use href="#so" x="249.3" y="301.7"/>
<use href="#so" x="256.6" y="302.5"/>
<use href="#so" x="266.9" y="301.0"/>
<use href="#so" x="273.5" y="302.5"/>
<use href="#so" x="284.5" y="301.0"/>
<use href="#so" x="282.3" y="312.7"/>
<use href="#so" x="294.8" y="319.3"/>
<use href="#so" x="258.1" y="319.3"/>
<use href="#so" x="264.7" y="323.7"/>
<use href="#so" x="272.0" y="324.5"/>
<use href="#so" x="249.3" y="334.0"/>
<use href="#so" x="266.9" y="344.3"/>
<use href="#so" x="290.4" y="344.3"/>
<use href="#so" x="264.7" y="359.7"/>
<use href="#so" x="275.7" y="384.6"/>
<use href="#so" x="269.1" y="383.9"/>
<use href="#sb" x="269.1" y="309.1"/>
<use href="#sb" x="299.2" y="308.3"/>
<use href="#sb" x="249.3" y="323.0"/>
<use href="#sb" x="259.5" y="334.0"/>
<use href="#sb" x="249.3" y="344.3"/>
<use href="#sb" x="268.3" y="354.6"/>
<use href="#sb" x="273.5" y="363.4"/>
<use href="#sb" x="257.3" y="386.8"/>
<use href="#sb" x="267.6" y="386.8"/>
</g>
<g clip-path="url(#k23)">
<use href="#sb" x="632.5" y="291.5"/>
<use href="#sb" x="541.5" y="308.3"/>
<use href="#sb" x="595.1" y="303.9"/>
<use href="#sb" x="589.2" y="317.1"/>
<use href="#sb" x="607.6" y="327.4"/>
<use href="#sb" x="595.1" y="331.8"/>
<use href="#sb" x="570.9" y="344.3"/>
<use href="#sb" x="576.8" y="344.3"/>
<use href="#sb" x="570.9" y="350.9"/>
<use href="#sb" x="620.0" y="344.3"/>
<use href="#sb" x="607.6" y="354.6"/>
<use href="#sb" x="561.3" y="363.4"/>
<use href="#sb" x="595.1" y="386.8"/>
<use href="#so" x="595.1" y="291.5"/>
<use href="#so" x="652.3" y="291.5"/>
<use href="#so" x="603.2" y="301.7"/>
<use href="#so" x="619.3" y="303.2"/>
<use href="#so" x="625.2" y="301.0"/>
<use href="#so" x="642.8" y="301.0"/>
<use href="#so" x="638.4" y="302.5"/>
<use href="#so" x="595.1" y="312.0"/>
<use href="#so" x="605.4" y="312.0"/>
<use href="#so" x="612.7" y="312.0"/>
<use href="#so" x="626.6" y="312.0"/>
<use href="#so" x="634.0" y="312.0"/>
<use href="#so" x="644.2" y="314.2"/>
<use href="#so" x="644.2" y="321.5"/>
<use href="#so" x="644.2" y="327.4"/>
<use href="#so" x="570.9" y="323.0"/>
<use href="#so" x="583.4" y="323.0"/>
<use href="#so" x="594.4" y="322.3"/>
<use href="#so" x="601.7" y="322.3"/>
<use href="#so" x="623.7" y="321.5"/>
<use href="#so" x="622.2" y="325.9"/>
<use href="#so" x="634.0" y="344.3"/>
<use href="#so" x="642.8" y="344.3"/>
<use href="#so" x="576.0" y="359.0"/>
<use href="#so" x="644.2" y="384.6"/>
<use href="#sb" x="636.9" y="307.6"/>
<use href="#sb" x="642.8" y="308.3"/>
<use href="#sb" x="607.6" y="323.0"/>
<use href="#sb" x="632.5" y="323.0"/>
<use href="#sb" x="570.9" y="333.3"/>
<use href="#so" x="613.4" y="324.5"/>
</g>
<g clip-path="url(#k24)">
<use href="#sb" x="692.2" y="291.5"/>
<use href="#sb" x="752.4" y="318.6"/>
<use href="#sb" x="732.6" y="320.1"/>
<use href="#sb" x="690.0" y="386.8"/>
<use href="#so" x="714.2" y="291.5"/>
<use href="#so" x="731.1" y="291.5"/>
<use href="#so" x="737.0" y="291.5"/>
<use href="#so" x="690.0" y="301.7"/>
<use href="#so" x="700.3" y="301.0"/>
<use href="#so" x="708.3" y="303.2"/>
<use href="#so" x="758.2" y="300.3"/>
<use href="#so" x="774.4" y="301.0"/>
<use href="#so" x="788.3" y="303.2"/>
<use href="#so" x="796.4" y="303.2"/>
<use href="#so" x="690.0" y="312.7"/>
<use href="#so" x="710.5" y="312.7"/>
<use href="#so" x="710.5" y="320.1"/>
<use href="#so" x="717.9" y="323.0"/>
<use href="#so" x="717.9" y="328.1"/>
<use href="#so" x="731.1" y="325.9"/>
<use href="#so" x="738.4" y="318.6"/>
<use href="#so" x="756.0" y="312.7"/>
<use href="#so" x="770.7" y="312.7"/>
<use href="#so" x="779.5" y="312.0"/>
<use href="#so" x="781.7" y="322.3"/>
<use href="#so" x="689.3" y="334.0"/>
<use href="#so" x="690.0" y="344.3"/>
<use href="#so" x="714.9" y="344.3"/>
<use href="#so" x="689.3" y="360.4"/>
<use href="#so" x="708.3" y="384.6"/>
<use href="#sb" x="699.5" y="309.8"/>
<use href="#sb" x="731.1" y="308.3"/>
<use href="#sb" x="744.3" y="307.6"/>
<use href="#sb" x="752.4" y="306.9"/>
<use href="#sb" x="764.1" y="306.9"/>
<use href="#sb" x="794.2" y="312.0"/>
<use href="#sb" x="750.2" y="312.7"/>
<use href="#sb" x="689.3" y="323.0"/>
<use href="#sb" x="695.1" y="334.0"/>
<use href="#sb" x="707.6" y="332.6"/>
<use href="#sb" x="701.0" y="344.3"/>
<use href="#sb" x="710.5" y="344.3"/>
<use href="#sb" x="701.0" y="350.9"/>
<use href="#sb" x="690.0" y="354.6"/>
<use href="#sb" x="698.8" y="363.4"/>
<use href="#so" x="697.3" y="323.7"/>
</g>
<g clip-path="url(#k25)">
<use href="#sb" x="863.4" y="291.5"/>
<use href="#sb" x="863.4" y="308.3"/>
<use href="#sb" x="933.8" y="309.8"/>
<use href="#sb" x="932.4" y="319.3"/>
<use href="#sb" x="827.5" y="322.3"/>
<use href="#sb" x="824.5" y="327.4"/>
<use href="#sb" x="863.4" y="317.1"/>
<use href="#sb" x="919.2" y="331.8"/>
<use href="#sb" x="919.2" y="344.3"/>
<use href="#sb" x="877.4" y="344.3"/>
<use href="#sb" x="906.0" y="344.3"/>
<use href="#sb" x="933.8" y="344.3"/>
<use href="#sb" x="849.5" y="363.4"/>
<use href="#so" x="875.2" y="291.5"/>
<use href="#so" x="852.4" y="302.5"/>
<use href="#so" x="863.4" y="301.7"/>
<use href="#so" x="891.3" y="301.7"/>
<use href="#so" x="903.0" y="301.7"/>
<use href="#so" x="881.0" y="304.7"/>
<use href="#so" x="863.4" y="312.7"/>
<use href="#so" x="875.2" y="314.2"/>
<use href="#so" x="847.3" y="320.8"/>
<use href="#so" x="863.4" y="323.7"/>
<use href="#so" x="863.4" y="327.4"/>
<use href="#so" x="875.2" y="323.0"/>
<use href="#so" x="878.1" y="322.3"/>
<use href="#so" x="875.2" y="327.4"/>
<use href="#so" x="892.8" y="324.5"/>
<use href="#so" x="899.4" y="322.3"/>
<use href="#so" x="906.0" y="325.2"/>
<use href="#so" x="891.3" y="334.0"/>
<use href="#so" x="863.4" y="343.6"/>
<use href="#so" x="891.3" y="344.3"/>
<use href="#so" x="908.2" y="344.3"/>
<use href="#so" x="891.3" y="359.0"/>
<use href="#so" x="863.4" y="384.6"/>
<use href="#so" x="875.2" y="383.9"/>
<use href="#sb" x="878.1" y="301.7"/>
<use href="#sb" x="875.2" y="309.1"/>
<use href="#sb" x="906.0" y="312.7"/>
<use href="#sb" x="875.2" y="386.8"/>
</g>
<g clip-path="url(#k30)">
<use href="#sb" x="106.9" y="435.1"/>
<use href="#sb" x="190.6" y="438.7"/>
<use href="#sb" x="214.0" y="427.0"/>
<use href="#sb" x="214.0" y="433.6"/>
<use href="#sb" x="128.9" y="446.1"/>
<use href="#sb" x="106.9" y="456.3"/>
<use href="#sb" x="170.0" y="451.9"/>
<use href="#sb" x="117.9" y="467.4"/>
<use href="#sb" x="131.9" y="467.4"/>
<use href="#sb" x="155.4" y="466.6"/>
<use href="#sb" x="161.2" y="471.8"/>
<use href="#sb" x="171.5" y="467.4"/>
<use href="#sb" x="122.3" y="488.6"/>
<use href="#sb" x="153.9" y="497.4"/>
<use href="#sb" x="214.0" y="513.6"/>
<use href="#so" x="179.6" y="418.2"/>
<use href="#so" x="170.0" y="427.0"/>
<use href="#so" x="178.8" y="424.1"/>
<use href="#so" x="192.0" y="424.1"/>
<use href="#so" x="178.1" y="432.1"/>
<use href="#so" x="179.6" y="438.7"/>
<use href="#so" x="149.5" y="430.7"/>
<use href="#so" x="161.2" y="443.9"/>
<use href="#so" x="167.1" y="445.3"/>
<use href="#so" x="148.8" y="450.5"/>
<use href="#so" x="168.6" y="451.9"/>
<use href="#so" x="192.0" y="444.6"/>
<use href="#so" x="189.1" y="449.7"/>
<use href="#so" x="197.9" y="457.1"/>
<use href="#so" x="162.0" y="460.8"/>
<use href="#so" x="158.3" y="466.6"/>
<use href="#so" x="164.2" y="467.4"/>
<use href="#so" x="184.7" y="467.4"/>
<use href="#so" x="138.5" y="459.3"/>
<use href="#so" x="145.1" y="476.9"/>
<use href="#so" x="153.9" y="482.8"/>
<use href="#so" x="138.5" y="488.6"/>
<use href="#sb" x="140.0" y="435.1"/>
<use href="#sb" x="150.2" y="435.1"/>
<use href="#sb" x="162.0" y="435.1"/>
<use href="#sb" x="167.1" y="435.8"/>
<use href="#sb" x="190.6" y="430.7"/>
<use href="#sb" x="143.6" y="456.3"/>
<use href="#sb" x="174.4" y="460.8"/>
<use href="#sb" x="142.2" y="466.6"/>
<use href="#sb" x="145.1" y="487.9"/>
<use href="#sb" x="158.3" y="487.9"/>
<use href="#sb" x="168.6" y="487.9"/>
</g>
<g clip-path="url(#k31)">
<use href="#sb" x="276.4" y="429.2"/>
<use href="#sb" x="291.1" y="429.2"/>
<use href="#sb" x="321.2" y="435.1"/>
<use href="#sb" x="299.9" y="446.1"/>
<use href="#sb" x="248.5" y="451.9"/>
<use href="#sb" x="257.3" y="455.6"/>
<use href="#sb" x="269.1" y="457.8"/>
<use href="#sb" x="254.4" y="471.8"/>
<use href="#sb" x="273.5" y="496.7"/>
<use href="#sb" x="298.4" y="513.6"/>
<use href="#so" x="335.8" y="418.2"/>
<use href="#so" x="260.3" y="424.1"/>
<use href="#so" x="266.9" y="424.1"/>
<use href="#so" x="276.4" y="423.3"/>
<use href="#so" x="283.0" y="424.1"/>
<use href="#so" x="282.3" y="432.9"/>
<use href="#so" x="285.2" y="441.7"/>
<use href="#so" x="294.8" y="438.0"/>
<use href="#so" x="255.9" y="445.3"/>
<use href="#so" x="263.9" y="450.5"/>
<use href="#so" x="274.9" y="449.7"/>
<use href="#so" x="277.9" y="457.1"/>
<use href="#so" x="249.3" y="460.8"/>
<use href="#so" x="260.3" y="476.9"/>
<use href="#so" x="267.6" y="484.2"/>
<use href="#so" x="290.4" y="487.9"/>
<use href="#so" x="357.1" y="467.4"/>
<use href="#sb" x="248.5" y="435.1"/>
<use href="#sb" x="261.7" y="434.3"/>
<use href="#sb" x="270.5" y="433.6"/>
<use href="#sb" x="296.2" y="430.7"/>
<use href="#sb" x="298.4" y="426.3"/>
<use href="#sb" x="270.5" y="439.5"/>
<use href="#sb" x="257.3" y="467.4"/>
<use href="#sb" x="267.6" y="467.4"/>
<use href="#sb" x="248.5" y="487.9"/>
<use href="#sb" x="258.8" y="487.9"/>
</g>
<g clip-path="url(#k32)">
<use href="#sb" x="506.3" y="435.1"/>
<use href="#sb" x="445.4" y="446.1"/>
<use href="#sb" x="433.0" y="456.3"/>
<use href="#sb" x="463.0" y="455.6"/>
<use href="#sb" x="395.5" y="467.4"/>
<use href="#sb" x="476.2" y="472.5"/>
<use href="#sb" x="490.9" y="468.1"/>
<use href="#sb" x="445.4" y="483.5"/>
<use href="#sb" x="436.6" y="488.6"/>
<use href="#sb" x="422.7" y="496.7"/>
<use href="#sb" x="487.2" y="513.6"/>
<use href="#so" x="398.5" y="424.8"/>
<use href="#so" x="445.4" y="426.3"/>
<use href="#so" x="445.4" y="432.9"/>
<use href="#so" x="463.8" y="424.1"/>
<use href="#so" x="471.1" y="423.3"/>
<use href="#so" x="480.6" y="423.3"/>
<use href="#so" x="493.8" y="426.3"/>
<use href="#so" x="506.3" y="418.2"/>
<use href="#so" x="482.1" y="432.1"/>
<use href="#so" x="482.1" y="438.7"/>
<use href="#so" x="468.9" y="442.4"/>
<use href="#so" x="467.4" y="450.5"/>
<use href="#so" x="490.9" y="444.6"/>
<use href="#so" x="493.8" y="439.5"/>
<use href="#so" x="482.1" y="450.5"/>
<use href="#so" x="482.1" y="456.3"/>
<use href="#so" x="494.6" y="460.8"/>
<use href="#so" x="506.3" y="467.4"/>
<use href="#so" x="470.4" y="466.6"/>
<use href="#so" x="482.1" y="467.4"/>
<use href="#so" x="469.6" y="477.6"/>
<use href="#so" x="469.6" y="488.6"/>
<use href="#so" x="456.4" y="488.6"/>
<use href="#sb" x="487.2" y="427.0"/>
<use href="#sb" x="468.9" y="434.3"/>
<use href="#sb" x="470.4" y="457.8"/>
<use href="#sb" x="459.4" y="467.4"/>
<use href="#sb" x="445.4" y="488.6"/>
<use href="#sb" x="457.2" y="488.6"/>
<use href="#so" x="427.8" y="484.2"/>
</g>
<g clip-path="url(#k34)">
<use href="#sb" x="780.2" y="427.7"/>
<use href="#sb" x="734.0" y="451.9"/>
<use href="#sb" x="688.5" y="454.1"/>
<use href="#sb" x="703.9" y="462.2"/>
<use href="#sb" x="698.8" y="497.4"/>
<use href="#sb" x="753.1" y="513.6"/>
<use href="#so" x="714.2" y="418.2"/>
<use href="#so" x="707.6" y="424.1"/>
<use href="#so" x="717.1" y="424.8"/>
<use href="#so" x="694.4" y="428.5"/>
<use href="#so" x="748.0" y="423.3"/>
<use href="#so" x="758.2" y="425.5"/>
<use href="#so" x="729.6" y="432.9"/>
<use href="#so" x="738.4" y="440.9"/>
<use href="#so" x="748.0" y="441.7"/>
<use href="#so" x="761.9" y="441.7"/>
<use href="#so" x="772.2" y="441.7"/>
<use href="#so" x="780.2" y="430.7"/>
<use href="#so" x="782.4" y="435.8"/>
<use href="#so" x="786.8" y="429.9"/>
<use href="#so" x="788.3" y="445.3"/>
<use href="#so" x="796.4" y="444.6"/>
<use href="#so" x="756.0" y="450.5"/>
<use href="#so" x="710.5" y="442.4"/>
<use href="#so" x="717.9" y="443.1"/>
<use href="#so" x="697.3" y="450.5"/>
<use href="#so" x="709.1" y="456.3"/>
<use href="#so" x="690.0" y="460.8"/>
<use href="#so" x="697.3" y="467.4"/>
<use href="#so" x="690.0" y="476.9"/>
<use href="#so" x="688.5" y="487.9"/>
<use href="#so" x="729.6" y="467.4"/>
<use href="#so" x="737.0" y="467.4"/>
<use href="#sb" x="731.1" y="426.3"/>
<use href="#sb" x="732.6" y="431.4"/>
<use href="#sb" x="742.8" y="430.7"/>
<use href="#sb" x="750.2" y="430.7"/>
<use href="#sb" x="756.0" y="432.1"/>
<use href="#sb" x="763.4" y="430.7"/>
<use href="#sb" x="794.2" y="429.9"/>
<use href="#sb" x="751.6" y="440.2"/>
<use href="#sb" x="690.0" y="435.1"/>
<use href="#sb" x="699.5" y="435.1"/>
<use href="#sb" x="690.0" y="467.4"/>
<use href="#sb" x="706.9" y="467.4"/>
<use href="#sb" x="694.4" y="487.9"/>
<use href="#sb" x="703.2" y="487.2"/>
<use href="#sb" x="710.5" y="487.9"/>
<use href="#so" x="770.7" y="432.9"/>
</g>
<g clip-path="url(#k35)">
<use href="#sb" x="827.5" y="435.1"/>
<use href="#sb" x="824.5" y="456.3"/>
<use href="#sb" x="863.4" y="430.7"/>
<use href="#sb" x="933.8" y="435.1"/>
<use href="#sb" x="871.5" y="466.6"/>
<use href="#sb" x="899.4" y="466.6"/>
<use href="#sb" x="919.2" y="467.4"/>
<use href="#sb" x="930.9" y="471.8"/>
<use href="#sb" x="933.8" y="471.8"/>
<use href="#sb" x="878.1" y="487.9"/>
<use href="#sb" x="906.7" y="484.2"/>
<use href="#sb" x="919.2" y="487.9"/>
<use href="#sb" x="933.8" y="487.9"/>
<use href="#sb" x="849.5" y="496.7"/>
<use href="#sb" x="863.4" y="513.6"/>
<use href="#so" x="863.4" y="423.3"/>
<use href="#so" x="875.2" y="424.1"/>
<use href="#so" x="881.0" y="429.9"/>
<use href="#so" x="852.4" y="433.6"/>
<use href="#so" x="863.4" y="432.9"/>
<use href="#so" x="863.4" y="439.5"/>
<use href="#so" x="875.2" y="434.3"/>
<use href="#so" x="875.2" y="443.9"/>
<use href="#so" x="847.3" y="446.1"/>
<use href="#so" x="863.4" y="450.5"/>
<use href="#so" x="875.2" y="451.9"/>
<use href="#so" x="875.2" y="468.1"/>
<use href="#so" x="897.2" y="430.7"/>
<use href="#so" x="894.2" y="442.4"/>
<use href="#so" x="905.2" y="452.7"/>
<use href="#so" x="903.8" y="460.8"/>
<use href="#so" x="891.3" y="460.8"/>
<use href="#so" x="899.4" y="477.6"/>
<use href="#so" x="891.3" y="482.8"/>
<use href="#so" x="891.3" y="487.9"/>
<use href="#sb" x="875.2" y="427.0"/>
<use href="#sb" x="906.0" y="435.1"/>
<use href="#sb" x="877.4" y="460.8"/>
<use href="#so" x="908.2" y="427.0"/>
</g>
<g clip-path="url(#k40)">
<use href="#sb" x="214.0" y="559.6"/>
<use href="#sb" x="214.0" y="572.8"/>
<use href="#sb" x="214.0" y="583.1"/>
<use href="#sb" x="214.0" y="591.2"/>
<use href="#sb" x="214.0" y="601.4"/>
<use href="#sb" x="190.6" y="561.8"/>
<use href="#sb" x="128.9" y="617.6"/>
<use href="#sb" x="117.9" y="622.0"/>
<use href="#sb" x="122.3" y="629.3"/>
<use href="#sb" x="143.6" y="638.1"/>
<use href="#so" x="190.6" y="545.7"/>
<use href="#so" x="192.0" y="553.0"/>
<use href="#so" x="178.8" y="553.0"/>
<use href="#so" x="178.1" y="558.9"/>
<use href="#so" x="178.8" y="566.2"/>
<use href="#so" x="178.8" y="577.9"/>
<use href="#so" x="178.8" y="585.3"/>
<use href="#so" x="178.8" y="594.1"/>
<use href="#so" x="189.8" y="564.7"/>
<use href="#so" x="189.8" y="572.1"/>
<use href="#so" x="189.8" y="577.9"/>
<use href="#so" x="184.7" y="595.6"/>
<use href="#so" x="184.7" y="602.9"/>
<use href="#so" x="191.3" y="595.6"/>
<use href="#so" x="149.5" y="602.2"/>
<use href="#so" x="159.8" y="615.4"/>
<use href="#so" x="171.5" y="616.1"/>
<use href="#so" x="179.6" y="616.8"/>
<use href="#so" x="190.6" y="613.2"/>
<use href="#so" x="191.3" y="619.0"/>
<use href="#so" x="199.4" y="620.5"/>
<use href="#so" x="171.5" y="626.4"/>
<use href="#so" x="152.4" y="636.6"/>
<use href="#so" x="161.2" y="635.9"/>
<use href="#so" x="143.6" y="636.6"/>
<use href="#so" x="106.9" y="639.6"/>
<use href="#sb" x="190.6" y="586.0"/>
<use href="#sb" x="170.0" y="600.0"/>
<use href="#sb" x="168.6" y="619.8"/>
<use href="#sb" x="161.2" y="626.4"/>
<use href="#sb" x="153.9" y="629.3"/>
<use href="#sb" x="143.6" y="632.2"/>
<use href="#sb" x="131.9" y="637.4"/>
<use href="#sb" x="106.9" y="636.6"/>
<use href="#sb" x="174.4" y="636.6"/>
</g>
<g clip-path="url(#k41)">
<use href="#sb" x="291.8" y="547.9"/>
<use href="#sb" x="291.8" y="559.6"/>
<use href="#sb" x="277.1" y="562.5"/>
<use href="#sb" x="249.3" y="600.0"/>
<use href="#sb" x="249.3" y="619.8"/>
<use href="#sb" x="248.5" y="627.8"/>
<use href="#sb" x="258.1" y="638.1"/>
<use href="#sb" x="267.6" y="638.1"/>
<use href="#sb" x="299.9" y="617.6"/>
<use href="#sb" x="321.2" y="635.9"/>
<use href="#so" x="256.6" y="545.7"/>
<use href="#so" x="256.6" y="552.3"/>
<use href="#so" x="253.7" y="560.3"/>
<use href="#so" x="259.5" y="558.9"/>
<use href="#so" x="282.3" y="553.0"/>
<use href="#so" x="282.3" y="558.9"/>
<use href="#so" x="283.0" y="566.2"/>
<use href="#so" x="273.5" y="573.5"/>
<use href="#so" x="274.9" y="579.4"/>
<use href="#so" x="286.7" y="582.3"/>
<use href="#so" x="289.6" y="588.2"/>
<use href="#so" x="272.0" y="595.6"/>
<use href="#so" x="288.2" y="595.6"/>
<use href="#so" x="261.7" y="602.2"/>
<use href="#so" x="260.3" y="611.7"/>
<use href="#so" x="258.8" y="618.3"/>
<use href="#so" x="272.0" y="613.2"/>
<use href="#so" x="277.1" y="620.5"/>
<use href="#so" x="267.6" y="620.5"/>
<use href="#so" x="264.7" y="632.2"/>
<use href="#so" x="290.4" y="633.0"/>
<use href="#so" x="335.8" y="616.8"/>
<use href="#so" x="357.1" y="596.3"/>
<use href="#so" x="357.1" y="602.2"/>
<use href="#sb" x="298.4" y="572.8"/>
<use href="#sb" x="298.4" y="583.1"/>
<use href="#sb" x="298.4" y="589.7"/>
<use href="#sb" x="298.4" y="601.4"/>
<use href="#sb" x="272.0" y="584.6"/>
<use href="#sb" x="277.9" y="586.0"/>
<use href="#sb" x="258.1" y="632.2"/>
<use href="#sb" x="273.5" y="630.0"/>
<use href="#so" x="249.3" y="636.6"/>
</g>
<g clip-path="url(#k42)">
<use href="#sb" x="488.0" y="572.8"/>
<use href="#sb" x="475.5" y="584.6"/>
<use href="#sb" x="488.0" y="591.2"/>
<use href="#sb" x="474.8" y="601.4"/>
<use href="#sb" x="470.4" y="638.8"/>
<use href="#sb" x="506.3" y="635.9"/>
<use href="#sb" x="395.5" y="637.4"/>
<use href="#so" x="492.4" y="545.7"/>
<use href="#so" x="493.8" y="553.0"/>
<use href="#so" x="471.8" y="558.1"/>
<use href="#so" x="480.6" y="558.9"/>
<use href="#so" x="480.6" y="566.2"/>
<use href="#so" x="493.8" y="564.7"/>
<use href="#so" x="495.3" y="579.4"/>
<use href="#so" x="480.6" y="580.9"/>
<use href="#so" x="474.8" y="595.6"/>
<use href="#so" x="466.7" y="602.2"/>
<use href="#so" x="506.3" y="596.3"/>
<use href="#so" x="506.3" y="602.9"/>
<use href="#so" x="506.3" y="616.8"/>
<use href="#so" x="466.0" y="613.2"/>
<use href="#so" x="471.1" y="617.6"/>
<use href="#so" x="482.1" y="619.0"/>
<use href="#so" x="492.4" y="620.5"/>
<use href="#so" x="445.4" y="617.6"/>
<use href="#so" x="398.5" y="622.0"/>
<use href="#so" x="467.4" y="630.8"/>
<use href="#so" x="493.8" y="629.3"/>
<use href="#so" x="426.3" y="638.1"/>
<use href="#so" x="444.7" y="636.6"/>
<use href="#so" x="455.7" y="638.1"/>
<use href="#so" x="468.9" y="636.6"/>
<use href="#so" x="482.1" y="637.4"/>
<use href="#so" x="494.6" y="636.6"/>
<use href="#sb" x="482.8" y="547.9"/>
<use href="#sb" x="482.1" y="586.0"/>
<use href="#sb" x="487.2" y="601.4"/>
<use href="#sb" x="444.7" y="620.5"/>
<use href="#sb" x="445.4" y="627.1"/>
<use href="#sb" x="458.6" y="621.2"/>
<use href="#sb" x="436.6" y="627.8"/>
<use href="#sb" x="422.7" y="630.0"/>
<use href="#sb" x="433.0" y="636.6"/>
<use href="#sb" x="457.2" y="633.0"/>
<use href="#sb" x="483.6" y="629.3"/>
</g>
<g clip-path="url(#k43)">
<use href="#sb" x="638.4" y="547.9"/>
<use href="#sb" x="639.8" y="559.6"/>
<use href="#sb" x="541.5" y="583.1"/>
<use href="#sb" x="612.7" y="600.0"/>
<use href="#sb" x="570.9" y="619.0"/>
<use href="#sb" x="609.0" y="636.6"/>
<use href="#so" x="621.5" y="545.7"/>
<use href="#so" x="620.8" y="553.0"/>
<use href="#so" x="629.6" y="558.9"/>
<use href="#so" x="622.2" y="564.7"/>
<use href="#so" x="634.0" y="566.9"/>
<use href="#so" x="623.7" y="572.8"/>
<use href="#so" x="644.2" y="578.7"/>
<use href="#so" x="645.7" y="587.5"/>
<use href="#so" x="613.4" y="580.9"/>
<use href="#so" x="623.7" y="595.6"/>
<use href="#so" x="629.6" y="595.6"/>
<use href="#so" x="595.1" y="596.3"/>
<use href="#so" x="595.1" y="602.9"/>
<use href="#so" x="607.6" y="619.8"/>
<use href="#so" x="622.2" y="613.2"/>
<use href="#so" x="621.5" y="617.6"/>
<use href="#so" x="622.2" y="622.0"/>
<use href="#so" x="642.8" y="614.6"/>
<use href="#so" x="653.0" y="616.8"/>
<use href="#so" x="644.2" y="620.5"/>
<use href="#so" x="614.2" y="631.5"/>
<use href="#so" x="570.9" y="638.1"/>
<use href="#so" x="595.8" y="632.2"/>
<use href="#so" x="639.8" y="634.4"/>
<use href="#sb" x="636.9" y="574.3"/>
<use href="#sb" x="625.2" y="584.6"/>
<use href="#sb" x="637.6" y="585.3"/>
<use href="#sb" x="636.9" y="600.0"/>
<use href="#sb" x="642.0" y="602.2"/>
<use href="#sb" x="560.6" y="630.0"/>
<use href="#sb" x="570.9" y="632.2"/>
<use href="#sb" x="595.1" y="622.0"/>
<use href="#sb" x="597.3" y="624.9"/>
<use href="#sb" x="593.6" y="637.4"/>
<use href="#sb" x="632.5" y="627.8"/>
<use href="#sb" x="632.5" y="635.9"/>
<use href="#so" x="582.6" y="635.9"/>
<use href="#so" x="603.2" y="636.6"/>
</g>
<g clip-path="url(#k45)">
<use href="#sb" x="863.4" y="573.5"/>
<use href="#sb" x="863.4" y="591.2"/>
<use href="#sb" x="875.2" y="564.7"/>
<use href="#sb" x="875.2" y="586.0"/>
<use href="#sb" x="875.2" y="602.9"/>
<use href="#sb" x="878.1" y="620.5"/>
<use href="#sb" x="826.0" y="635.2"/>
<use href="#sb" x="863.4" y="636.6"/>
<use href="#sb" x="898.6" y="624.9"/>
<use href="#sb" x="919.2" y="622.0"/>
<use href="#sb" x="919.2" y="632.2"/>
<use href="#sb" x="932.4" y="626.4"/>
<use href="#sb" x="933.8" y="635.2"/>
<use href="#sb" x="929.4" y="635.9"/>
<use href="#sb" x="908.9" y="636.6"/>
<use href="#so" x="863.4" y="553.0"/>
<use href="#so" x="863.4" y="558.9"/>
<use href="#so" x="863.4" y="566.9"/>
<use href="#so" x="863.4" y="580.9"/>
<use href="#so" x="863.4" y="587.5"/>
<use href="#so" x="875.2" y="545.7"/>
<use href="#so" x="875.2" y="553.0"/>
<use href="#so" x="875.2" y="560.3"/>
<use href="#so" x="875.2" y="573.5"/>
<use href="#so" x="875.2" y="580.1"/>
<use href="#so" x="875.2" y="596.3"/>
<use href="#so" x="863.4" y="613.2"/>
<use href="#so" x="863.4" y="620.5"/>
<use href="#so" x="863.4" y="631.5"/>
<use href="#so" x="875.2" y="613.2"/>
<use href="#so" x="875.2" y="618.3"/>
<use href="#so" x="847.3" y="622.0"/>
<use href="#so" x="897.2" y="602.2"/>
<use href="#so" x="894.2" y="616.1"/>
<use href="#so" x="908.2" y="617.6"/>
<use href="#so" x="905.2" y="627.1"/>
<use href="#so" x="890.6" y="636.6"/>
<use href="#so" x="903.0" y="636.6"/>
<use href="#so" x="875.2" y="637.4"/>
<use href="#sb" x="863.4" y="547.9"/>
<use href="#sb" x="863.4" y="601.4"/>
<use href="#sb" x="875.2" y="627.8"/>
<use href="#sb" x="849.5" y="630.0"/>
<use href="#sb" x="878.1" y="637.4"/>
</g>
<g clip-path="url(#k50)">
<use href="#sb" x="151.0" y="679.7"/>
<use href="#sb" x="161.2" y="679.7"/>
<use href="#sb" x="162.0" y="683.4"/>
<use href="#sb" x="117.9" y="692.2"/>
<use href="#sb" x="145.1" y="692.2"/>
<use href="#sb" x="149.5" y="702.5"/>
<use href="#sb" x="162.0" y="702.5"/>
<use href="#sb" x="143.6" y="732.6"/>
<use href="#sb" x="153.9" y="740.6"/>
<use href="#sb" x="214.0" y="730.4"/>
<use href="#sb" x="214.0" y="740.6"/>
<use href="#sb" x="140.0" y="771.4"/>
<use href="#sb" x="146.6" y="773.6"/>
<use href="#so" x="170.8" y="702.5"/>
<use href="#so" x="162.0" y="705.4"/>
<use href="#so" x="144.4" y="709.1"/>
<use href="#so" x="150.2" y="715.7"/>
<use href="#so" x="162.0" y="715.7"/>
<use href="#so" x="106.9" y="731.1"/>
<use href="#so" x="140.0" y="728.2"/>
<use href="#so" x="158.3" y="731.8"/>
<use href="#so" x="173.0" y="723.0"/>
<use href="#so" x="183.2" y="729.6"/>
<use href="#so" x="192.0" y="729.6"/>
<use href="#so" x="149.5" y="740.6"/>
<use href="#so" x="178.1" y="740.6"/>
<use href="#so" x="191.3" y="740.6"/>
<use href="#so" x="170.0" y="739.2"/>
<use href="#so" x="164.2" y="749.4"/>
<use href="#so" x="164.2" y="755.3"/>
<use href="#sb" x="151.0" y="730.4"/>
<use href="#sb" x="167.1" y="728.2"/>
<use href="#sb" x="173.7" y="728.2"/>
<use href="#sb" x="164.9" y="740.6"/>
<use href="#sb" x="153.9" y="752.4"/>
</g>
<g clip-path="url(#k51)">
<use href="#sb" x="249.3" y="679.7"/>
<use href="#sb" x="257.3" y="680.5"/>
<use href="#sb" x="263.9" y="679.7"/>
<use href="#sb" x="248.5" y="692.2"/>
<use href="#sb" x="258.1" y="691.5"/>
<use href="#sb" x="254.4" y="701.0"/>
<use href="#sb" x="298.4" y="730.4"/>
<use href="#sb" x="297.0" y="740.6"/>
<use href="#sb" x="291.1" y="740.6"/>
<use href="#sb" x="248.5" y="740.6"/>
<use href="#sb" x="321.2" y="740.6"/>
<use href="#sb" x="257.3" y="773.6"/>
<use href="#sb" x="266.9" y="771.4"/>
<use href="#so" x="266.9" y="701.0"/>
<use href="#so" x="258.8" y="708.3"/>
<use href="#so" x="249.3" y="706.1"/>
<use href="#so" x="249.3" y="716.4"/>
<use href="#so" x="266.9" y="716.4"/>
<use href="#so" x="272.0" y="724.5"/>
<use href="#so" x="258.8" y="729.6"/>
<use href="#so" x="280.8" y="729.6"/>
<use href="#so" x="286.7" y="730.4"/>
<use href="#so" x="254.4" y="740.6"/>
<use href="#so" x="263.2" y="740.6"/>
<use href="#so" x="274.9" y="739.9"/>
<use href="#so" x="282.3" y="739.9"/>
<use href="#so" x="264.7" y="748.7"/>
<use href="#so" x="263.2" y="755.3"/>
<use href="#so" x="357.1" y="731.1"/>
<use href="#sb" x="249.3" y="728.2"/>
<use href="#sb" x="269.8" y="729.6"/>
<use href="#sb" x="273.5" y="752.4"/>
</g>
<g clip-path="url(#k52)">
<use href="#sb" x="445.1" y="679.7"/>
<use href="#sb" x="474.8" y="679.0"/>
<use href="#sb" x="474.8" y="683.4"/>
<use href="#sb" x="484.3" y="679.7"/>
<use href="#sb" x="445.1" y="692.2"/>
<use href="#sb" x="458.6" y="692.2"/>
<use href="#sb" x="462.3" y="692.2"/>
<use href="#sb" x="445.1" y="703.9"/>
<use href="#sb" x="482.1" y="703.9"/>
<use href="#sb" x="445.1" y="728.2"/>
<use href="#sb" x="488.0" y="740.6"/>
<use href="#sb" x="422.7" y="752.4"/>
<use href="#sb" x="464.5" y="773.6"/>
<use href="#sb" x="471.1" y="771.4"/>
<use href="#so" x="445.1" y="701.7"/>
<use href="#so" x="467.4" y="703.9"/>
<use href="#so" x="468.9" y="709.1"/>
<use href="#so" x="467.4" y="714.2"/>
<use href="#so" x="494.6" y="706.1"/>
<use href="#so" x="494.6" y="716.4"/>
<use href="#so" x="427.8" y="716.4"/>
<use href="#so" x="445.1" y="716.4"/>
<use href="#so" x="456.4" y="716.4"/>
<use href="#so" x="399.2" y="731.1"/>
<use href="#so" x="398.5" y="740.6"/>
<use href="#so" x="445.1" y="740.6"/>
<use href="#so" x="466.0" y="730.4"/>
<use href="#so" x="470.4" y="728.9"/>
<use href="#so" x="480.6" y="730.4"/>
<use href="#so" x="490.9" y="724.5"/>
<use href="#so" x="464.5" y="740.6"/>
<use href="#so" x="468.9" y="740.6"/>
<use href="#so" x="482.1" y="740.6"/>
<use href="#so" x="494.6" y="740.6"/>
<use href="#so" x="506.3" y="731.1"/>
<use href="#so" x="493.8" y="750.2"/>
<use href="#so" x="471.8" y="754.6"/>
<use href="#sb" x="396.3" y="730.4"/>
<use href="#sb" x="487.2" y="730.4"/>
<use href="#sb" x="494.6" y="728.2"/>
<use href="#sb" x="506.3" y="740.6"/>
</g>
<g clip-path="url(#k53)">
<use href="#sb" x="570.9" y="679.7"/>
<use href="#sb" x="590.7" y="681.2"/>
<use href="#sb" x="590.0" y="683.4"/>
<use href="#sb" x="632.5" y="679.7"/>
<use href="#sb" x="570.9" y="692.2"/>
<use href="#sb" x="595.1" y="692.2"/>
<use href="#sb" x="575.3" y="703.2"/>
<use href="#sb" x="595.8" y="709.1"/>
<use href="#sb" x="632.5" y="703.9"/>
<use href="#sb" x="570.9" y="728.2"/>
<use href="#sb" x="595.8" y="733.3"/>
<use href="#sb" x="541.5" y="740.6"/>
<use href="#sb" x="561.3" y="752.4"/>
<use href="#sb" x="607.6" y="773.6"/>
<use href="#sb" x="632.5" y="771.4"/>
<use href="#sb" x="635.4" y="740.6"/>
<use href="#so" x="583.4" y="709.1"/>
<use href="#so" x="570.9" y="716.4"/>
<use href="#so" x="576.0" y="716.4"/>
<use href="#so" x="603.2" y="705.4"/>
<use href="#so" x="612.0" y="704.7"/>
<use href="#so" x="603.2" y="716.4"/>
<use href="#so" x="623.7" y="714.2"/>
<use href="#so" x="636.9" y="712.0"/>
<use href="#so" x="642.8" y="701.7"/>
<use href="#so" x="594.4" y="731.1"/>
<use href="#so" x="609.0" y="730.4"/>
<use href="#so" x="614.9" y="730.4"/>
<use href="#so" x="622.2" y="729.6"/>
<use href="#so" x="632.5" y="729.6"/>
<use href="#so" x="638.4" y="724.5"/>
<use href="#so" x="645.7" y="730.4"/>
<use href="#so" x="613.4" y="739.9"/>
<use href="#so" x="620.8" y="740.6"/>
<use href="#so" x="628.1" y="739.9"/>
<use href="#so" x="634.0" y="739.9"/>
<use href="#so" x="645.7" y="740.6"/>
<use href="#so" x="634.0" y="750.2"/>
<use href="#so" x="620.8" y="754.6"/>
<use href="#sb" x="603.2" y="728.2"/>
<use href="#sb" x="642.0" y="730.4"/>
</g>
<g clip-path="url(#k54)">
<use href="#sb" x="690.7" y="681.2"/>
<use href="#sb" x="697.3" y="679.7"/>
<use href="#sb" x="702.5" y="679.7"/>
<use href="#sb" x="690.0" y="692.2"/>
<use href="#sb" x="694.4" y="692.2"/>
<use href="#sb" x="706.9" y="692.2"/>
<use href="#sb" x="703.9" y="711.3"/>
<use href="#sb" x="710.5" y="727.4"/>
<use href="#sb" x="690.0" y="740.6"/>
<use href="#sb" x="730.4" y="730.4"/>
<use href="#sb" x="742.8" y="740.6"/>
<use href="#sb" x="751.6" y="730.4"/>
<use href="#sb" x="764.8" y="740.6"/>
<use href="#sb" x="775.1" y="730.4"/>
<use href="#sb" x="692.9" y="772.2"/>
<use href="#sb" x="693.7" y="774.4"/>
<use href="#so" x="690.0" y="705.4"/>
<use href="#so" x="702.5" y="703.9"/>
<use href="#so" x="713.5" y="701.7"/>
<use href="#so" x="690.0" y="715.7"/>
<use href="#so" x="714.9" y="714.2"/>
<use href="#so" x="731.1" y="712.0"/>
<use href="#so" x="712.0" y="730.4"/>
<use href="#so" x="718.6" y="730.4"/>
<use href="#so" x="704.7" y="731.8"/>
<use href="#so" x="697.3" y="740.6"/>
<use href="#so" x="707.6" y="740.6"/>
<use href="#so" x="717.9" y="740.6"/>
<use href="#so" x="737.7" y="730.4"/>
<use href="#so" x="756.0" y="730.4"/>
<use href="#so" x="765.6" y="730.4"/>
<use href="#so" x="779.5" y="730.4"/>
<use href="#so" x="787.6" y="730.4"/>
<use href="#so" x="796.4" y="730.4"/>
<use href="#so" x="747.2" y="740.6"/>
<use href="#so" x="756.0" y="740.6"/>
<use href="#so" x="770.7" y="740.6"/>
<use href="#so" x="781.0" y="740.6"/>
<use href="#so" x="788.3" y="740.6"/>
<use href="#so" x="707.6" y="755.3"/>
<use href="#so" x="688.5" y="730.4"/>
<use href="#sb" x="690.0" y="728.2"/>
<use href="#sb" x="701.0" y="730.4"/>
<use href="#sb" x="730.4" y="740.6"/>
<use href="#sb" x="794.2" y="740.6"/>
<use href="#sb" x="698.8" y="752.4"/>
</g>
<line x1="228.5" y1="27" x2="228.5" y2="783" stroke="#000" stroke-opacity="0.8" stroke-width="1.45"/>
<line x1="375" y1="27" x2="375" y2="783" stroke="#000" stroke-opacity="0.8" stroke-width="1.45"/>
<line x1="521.6" y1="27" x2="521.6" y2="783" stroke="#000" stroke-opacity="0.8" stroke-width="1.45"/>
<line x1="668.2" y1="27" x2="668.2" y2="783" stroke="#000" stroke-opacity="0.8" stroke-width="1.45"/>
<line x1="814.8" y1="27" x2="814.8" y2="783" stroke="#000" stroke-opacity="0.8" stroke-width="1.45"/>
<line x1="82" y1="153" x2="961.5" y2="153" stroke="#000" stroke-opacity="0.8" stroke-width="1.45"/>
<line x1="82" y1="279" x2="961.5" y2="279" stroke="#000" stroke-opacity="0.8" stroke-width="1.45"/>
<line x1="82" y1="405" x2="961.5" y2="405" stroke="#000" stroke-opacity="0.8" stroke-width="1.45"/>
<line x1="82" y1="531" x2="961.5" y2="531" stroke="#000" stroke-opacity="0.8" stroke-width="1.45"/>
<line x1="82" y1="657" x2="961.5" y2="657" stroke="#000" stroke-opacity="0.8" stroke-width="1.45"/>
<rect x="82" y="27" width="879.5" height="756" fill="none" stroke="#000" stroke-width="2"/>
<line x1="249.6" y1="27" x2="249.6" y2="31.6" stroke="#000" stroke-width="1.9"/>
<line x1="286.4" y1="27" x2="286.4" y2="31.6" stroke="#000" stroke-width="1.9"/>
<line x1="322.9" y1="27" x2="322.9" y2="31.6" stroke="#000" stroke-width="1.9"/>
<line x1="359.7" y1="27" x2="359.7" y2="31.6" stroke="#000" stroke-width="1.9"/>
<line x1="521.8" y1="27" x2="521.8" y2="31.6" stroke="#000" stroke-width="1.9"/>
<line x1="558.9" y1="27" x2="558.9" y2="31.6" stroke="#000" stroke-width="1.9"/>
<line x1="595.8" y1="27" x2="595.8" y2="31.6" stroke="#000" stroke-width="1.9"/>
<line x1="632.5" y1="27" x2="632.5" y2="31.6" stroke="#000" stroke-width="1.9"/>
<line x1="844.0" y1="27" x2="844.0" y2="31.6" stroke="#000" stroke-width="1.9"/>
<line x1="894.7" y1="27" x2="894.7" y2="31.6" stroke="#000" stroke-width="1.9"/>
<line x1="945.2" y1="27" x2="945.2" y2="31.6" stroke="#000" stroke-width="1.9"/>
<line x1="89.3" y1="783" x2="89.3" y2="778.4" stroke="#000" stroke-width="1.9"/>
<line x1="138.9" y1="783" x2="138.9" y2="778.4" stroke="#000" stroke-width="1.9"/>
<line x1="187.8" y1="783" x2="187.8" y2="778.4" stroke="#000" stroke-width="1.9"/>
<line x1="395.8" y1="783" x2="395.8" y2="778.4" stroke="#000" stroke-width="1.9"/>
<line x1="433.0" y1="783" x2="433.0" y2="778.4" stroke="#000" stroke-width="1.9"/>
<line x1="469.5" y1="783" x2="469.5" y2="778.4" stroke="#000" stroke-width="1.9"/>
<line x1="506.8" y1="783" x2="506.8" y2="778.4" stroke="#000" stroke-width="1.9"/>
<line x1="689.7" y1="783" x2="689.7" y2="778.4" stroke="#000" stroke-width="1.9"/>
<line x1="737.3" y1="783" x2="737.3" y2="778.4" stroke="#000" stroke-width="1.9"/>
<line x1="785.9" y1="783" x2="785.9" y2="778.4" stroke="#000" stroke-width="1.9"/>
<line x1="961.5" y1="30.7" x2="956.9" y2="30.7" stroke="#000" stroke-width="1.9"/>
<line x1="961.5" y1="62.5" x2="956.9" y2="62.5" stroke="#000" stroke-width="1.9"/>
<line x1="961.5" y1="93.8" x2="956.9" y2="93.8" stroke="#000" stroke-width="1.9"/>
<line x1="961.5" y1="125.6" x2="956.9" y2="125.6" stroke="#000" stroke-width="1.9"/>
<line x1="961.5" y1="291.7" x2="956.9" y2="291.7" stroke="#000" stroke-width="1.9"/>
<line x1="961.5" y1="323.5" x2="956.9" y2="323.5" stroke="#000" stroke-width="1.9"/>
<line x1="961.5" y1="355.3" x2="956.9" y2="355.3" stroke="#000" stroke-width="1.9"/>
<line x1="961.5" y1="387.1" x2="956.9" y2="387.1" stroke="#000" stroke-width="1.9"/>
<line x1="961.5" y1="541.7" x2="956.9" y2="541.7" stroke="#000" stroke-width="1.9"/>
<line x1="961.5" y1="574.0" x2="956.9" y2="574.0" stroke="#000" stroke-width="1.9"/>
<line x1="961.5" y1="606.1" x2="956.9" y2="606.1" stroke="#000" stroke-width="1.9"/>
<line x1="961.5" y1="638.4" x2="956.9" y2="638.4" stroke="#000" stroke-width="1.9"/>
<line x1="82" y1="165.8" x2="86.6" y2="165.8" stroke="#000" stroke-width="1.9"/>
<line x1="82" y1="197.3" x2="86.6" y2="197.3" stroke="#000" stroke-width="1.9"/>
<line x1="82" y1="229.0" x2="86.6" y2="229.0" stroke="#000" stroke-width="1.9"/>
<line x1="82" y1="260.8" x2="86.6" y2="260.8" stroke="#000" stroke-width="1.9"/>
<line x1="82" y1="435.0" x2="86.6" y2="435.0" stroke="#000" stroke-width="1.9"/>
<line x1="82" y1="466.8" x2="86.6" y2="466.8" stroke="#000" stroke-width="1.9"/>
<line x1="82" y1="498.6" x2="86.6" y2="498.6" stroke="#000" stroke-width="1.9"/>
<line x1="82" y1="530.4" x2="86.6" y2="530.4" stroke="#000" stroke-width="1.9"/>
<line x1="82" y1="675.3" x2="86.6" y2="675.3" stroke="#000" stroke-width="1.9"/>
<line x1="82" y1="707.0" x2="86.6" y2="707.0" stroke="#000" stroke-width="1.9"/>
<line x1="82" y1="738.5" x2="86.6" y2="738.5" stroke="#000" stroke-width="1.9"/>
<line x1="82" y1="769.8" x2="86.6" y2="769.8" stroke="#000" stroke-width="1.9"/>
<text transform="translate(250.0,16.3) scale(1,1.065)" font-size="23" text-anchor="middle" stroke="#000" stroke-width="0.35">0</text>
<text transform="translate(285.6,16.3) scale(1,1.065)" font-size="23" text-anchor="middle" stroke="#000" stroke-width="0.35">51</text>
<text transform="translate(323.0,16.3) scale(1,1.065)" font-size="23" text-anchor="middle" stroke="#000" stroke-width="0.35">102</text>
<text transform="translate(359.8,16.3) scale(1,1.065)" font-size="23" text-anchor="middle" stroke="#000" stroke-width="0.35">153</text>
<text transform="translate(522.2,16.3) scale(1,1.065)" font-size="23" text-anchor="middle" stroke="#000" stroke-width="0.35">0</text>
<text transform="translate(559.5,16.3) scale(1,1.065)" font-size="23" text-anchor="middle" stroke="#000" stroke-width="0.35">15</text>
<text transform="translate(596.6,16.3) scale(1,1.065)" font-size="23" text-anchor="middle" stroke="#000" stroke-width="0.35">30</text>
<text transform="translate(632.5,16.3) scale(1,1.065)" font-size="23" text-anchor="middle" stroke="#000" stroke-width="0.35">45</text>
<text transform="translate(844.0,16.3) scale(1,1.065)" font-size="23" text-anchor="middle" stroke="#000" stroke-width="0.35">0.18</text>
<text transform="translate(894.3,16.3) scale(1,1.065)" font-size="23" text-anchor="middle" stroke="#000" stroke-width="0.35">0.36</text>
<text transform="translate(944.6,16.3) scale(1,1.065)" font-size="23" text-anchor="middle" stroke="#000" stroke-width="0.35">0.54</text>
<text transform="translate(88.7,806.6) scale(1,1.065)" font-size="23" text-anchor="middle" stroke="#000" stroke-width="0.35">8.8</text>
<text transform="translate(138.6,806.6) scale(1,1.065)" font-size="23" text-anchor="middle" stroke="#000" stroke-width="0.35">17.6</text>
<text transform="translate(187.4,806.6) scale(1,1.065)" font-size="23" text-anchor="middle" stroke="#000" stroke-width="0.35">26.4</text>
<text transform="translate(396.2,806.6) scale(1,1.065)" font-size="23" text-anchor="middle" stroke="#000" stroke-width="0.35">0</text>
<text transform="translate(433.0,806.6) scale(1,1.065)" font-size="23" text-anchor="middle" stroke="#000" stroke-width="0.35">15</text>
<text transform="translate(469.5,806.6) scale(1,1.065)" font-size="23" text-anchor="middle" stroke="#000" stroke-width="0.35">30</text>
<text transform="translate(506.8,806.6) scale(1,1.065)" font-size="23" text-anchor="middle" stroke="#000" stroke-width="0.35">45</text>
<text transform="translate(690.1,806.6) scale(1,1.065)" font-size="23" text-anchor="middle" stroke="#000" stroke-width="0.35">0</text>
<text transform="translate(738.3,806.6) scale(1,1.065)" font-size="23" text-anchor="middle" stroke="#000" stroke-width="0.35">230</text>
<text transform="translate(786.1,806.6) scale(1,1.065)" font-size="23" text-anchor="middle" stroke="#000" stroke-width="0.35">460</text>
<text transform="translate(968.7,37.9) scale(1,1.065)" font-size="23" text-anchor="start" stroke="#000" stroke-width="0.35">33.0</text>
<text transform="translate(968.7,69.7) scale(1,1.065)" font-size="23" text-anchor="start" stroke="#000" stroke-width="0.35">26.4</text>
<text transform="translate(968.7,101.0) scale(1,1.065)" font-size="23" text-anchor="start" stroke="#000" stroke-width="0.35">19.8</text>
<text transform="translate(968.7,132.8) scale(1,1.065)" font-size="23" text-anchor="start" stroke="#000" stroke-width="0.35">13.2</text>
<text transform="translate(968.7,298.9) scale(1,1.065)" font-size="23" text-anchor="start" stroke="#000" stroke-width="0.35">45</text>
<text transform="translate(968.7,330.7) scale(1,1.065)" font-size="23" text-anchor="start" stroke="#000" stroke-width="0.35">30</text>
<text transform="translate(968.7,362.5) scale(1,1.065)" font-size="23" text-anchor="start" stroke="#000" stroke-width="0.35">15</text>
<text transform="translate(968.7,394.3) scale(1,1.065)" font-size="23" text-anchor="start" stroke="#000" stroke-width="0.35">0</text>
<text transform="translate(968.7,548.9) scale(1,1.065)" font-size="23" text-anchor="start" stroke="#000" stroke-width="0.35">540</text>
<text transform="translate(968.7,581.2) scale(1,1.065)" font-size="23" text-anchor="start" stroke="#000" stroke-width="0.35">360</text>
<text transform="translate(968.7,613.3) scale(1,1.065)" font-size="23" text-anchor="start" stroke="#000" stroke-width="0.35">180</text>
<text transform="translate(968.7,645.6) scale(1,1.065)" font-size="23" text-anchor="start" stroke="#000" stroke-width="0.35">0</text>
<text transform="translate(76.8,173.0) scale(1,1.065)" font-size="23" text-anchor="end" stroke="#000" stroke-width="0.35">153</text>
<text transform="translate(76.8,204.5) scale(1,1.065)" font-size="23" text-anchor="end" stroke="#000" stroke-width="0.35">102</text>
<text transform="translate(76.8,236.2) scale(1,1.065)" font-size="23" text-anchor="end" stroke="#000" stroke-width="0.35">51</text>
<text transform="translate(76.8,268.0) scale(1,1.065)" font-size="23" text-anchor="end" stroke="#000" stroke-width="0.35">0</text>
<text transform="translate(76.8,442.2) scale(1,1.065)" font-size="23" text-anchor="end" stroke="#000" stroke-width="0.35">45</text>
<text transform="translate(76.8,474.0) scale(1,1.065)" font-size="23" text-anchor="end" stroke="#000" stroke-width="0.35">30</text>
<text transform="translate(76.8,505.8) scale(1,1.065)" font-size="23" text-anchor="end" stroke="#000" stroke-width="0.35">15</text>
<text transform="translate(76.8,537.6) scale(1,1.065)" font-size="23" text-anchor="end" stroke="#000" stroke-width="0.35">0</text>
<text transform="translate(76.8,682.5) scale(1,1.065)" font-size="23" text-anchor="end" stroke="#000" stroke-width="0.35">0.52</text>
<text transform="translate(76.8,714.2) scale(1,1.065)" font-size="23" text-anchor="end" stroke="#000" stroke-width="0.35">0.39</text>
<text transform="translate(76.8,745.7) scale(1,1.065)" font-size="23" text-anchor="end" stroke="#000" stroke-width="0.35">0.26</text>
<text transform="translate(76.8,777.0) scale(1,1.065)" font-size="23" text-anchor="end" stroke="#000" stroke-width="0.35">0.13</text>
<text x="65" y="849.4" font-size="42"><tspan font-style="italic">g</tspan>/(kN·m<tspan font-size="26" dy="-17">-3</tspan><tspan dy="17">)</tspan></text>
<text x="447" y="845.4" font-size="42" text-anchor="middle"><tspan font-style="italic">j</tspan>/°</text>
<text x="742.7" y="845.2" font-size="42" text-anchor="middle"><tspan font-style="italic">H</tspan>/m</text>
<text transform="translate(30.1,216.4) rotate(-90)" font-size="42" text-anchor="middle"><tspan font-style="italic">c</tspan>/kPa</text>
<text transform="translate(41,470.8) rotate(-90)" font-size="42" text-anchor="middle"><tspan font-style="italic">φ</tspan>/°</text>
<text transform="translate(23.6,720.5) rotate(-90)" font-size="42" text-anchor="middle" font-style="italic">ru</text>
<use href="#sb" transform="translate(27.5,54.9) scale(0.93)"/>
<use href="#so" transform="translate(27.5,99.4) scale(0.93)"/>
<text x="51.5" y="67.7" font-size="36">F</text>
<text x="53.2" y="111.6" font-size="36">S</text>
</svg></body></html>
